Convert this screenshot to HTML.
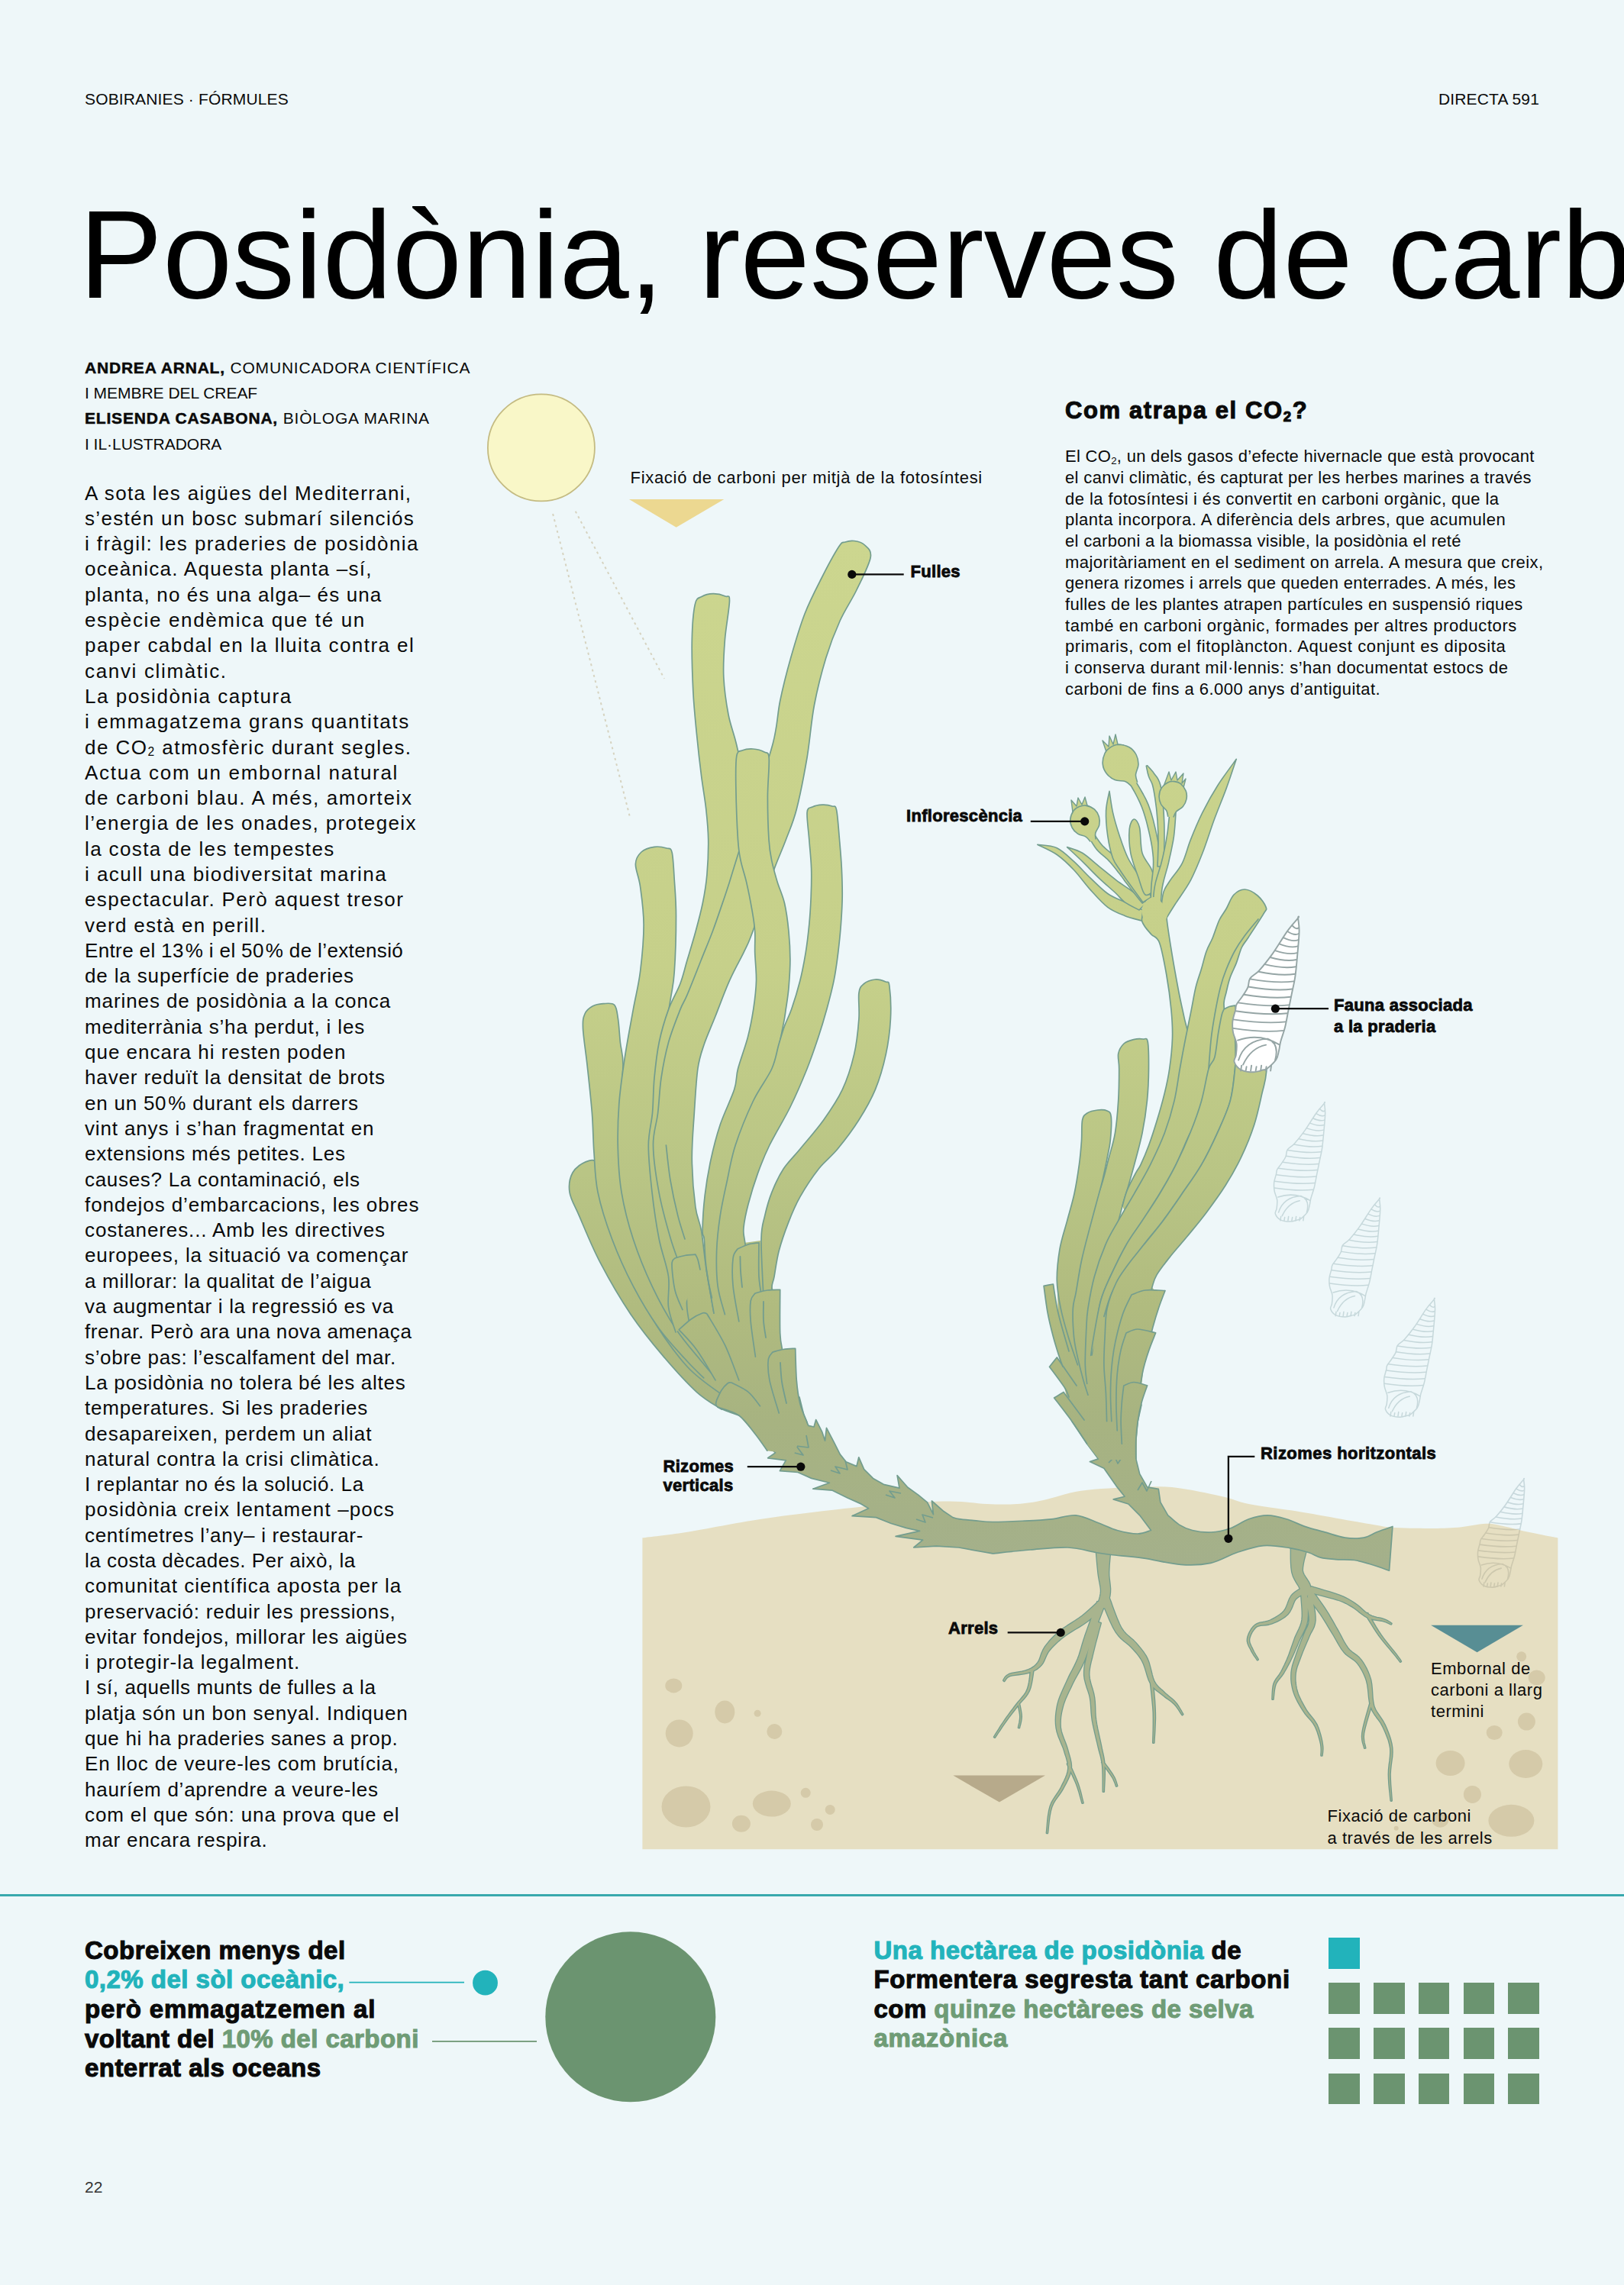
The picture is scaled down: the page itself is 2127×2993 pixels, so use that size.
<!DOCTYPE html>
<html lang="ca"><head><meta charset="utf-8"><title>Posidònia, reserves de carboni</title>
<style>
html,body{margin:0;padding:0;}
body{width:2127px;height:2993px;background:#eef7f9;position:relative;overflow:hidden;font-family:"Liberation Sans",sans-serif;color:#0a0a0a;}
.tb{position:absolute;white-space:nowrap;}
.tb div{height:1lh;overflow:visible;}
.title{color:#000;}
.by b,.lb,.hv{font-weight:700;-webkit-text-stroke:0.5px currentColor;}
.lb{-webkit-text-stroke:0.8px currentColor;}
.hv{-webkit-text-stroke:1.1px currentColor;}
.sub{font-size:0.6em;position:relative;top:0.18em;line-height:0;}
.sub2{font-size:0.6em;position:relative;top:0.22em;line-height:0;}
.pc{margin-left:2px;}
.teal{color:#22b3bb;}
.green{color:#6f9c76;}
.sq{position:absolute;width:40.6px;height:40.6px;background:#6b9470;}
svg{position:absolute;left:0;top:0;}
.hr{position:absolute;left:0;top:2480.7px;width:2127px;height:3.6px;background:#38a9ad;}
</style></head><body>
<svg width="2127" height="2993" viewBox="0 0 2127 2993"><defs><linearGradient id="g" gradientUnits="userSpaceOnUse" x1="0" y1="700" x2="0" y2="2050"><stop offset="0" stop-color="#ccd68f"/><stop offset="0.42" stop-color="#c6d08a"/><stop offset="0.62" stop-color="#b9c585"/><stop offset="0.75" stop-color="#b0bb7f"/><stop offset="0.86" stop-color="#a7b381"/><stop offset="1" stop-color="#a4b08b"/></linearGradient><clipPath id="sc"><path d="M841.4 2014.3C850.9 2013.1 872.6 2011 898.5 2006.9C924.4 2002.8 964.1 1994.6 997 1989.7C1029.8 1984.8 1066.8 1980.6 1095.6 1977.3C1124.3 1974 1144.9 1971.8 1169.5 1970C1194.1 1968.2 1222.8 1966.5 1243.3 1966.5C1263.8 1966.5 1277.8 1969.4 1292.6 1970C1307.4 1970.6 1319.7 1970.8 1332 1970C1344.3 1969.2 1352.5 1967.9 1366.5 1965C1380.5 1962.1 1395.3 1955.6 1415.8 1952.7C1436.3 1949.8 1469.2 1948.5 1489.7 1947.8C1510.2 1947.1 1520.5 1946.5 1538.9 1948.5C1557.3 1950.5 1583.9 1956.4 1600 1960C1616.1 1963.6 1618.9 1966.7 1635.6 1970C1652.3 1973.3 1681 1976.7 1700 1979.8C1719 1982.9 1732.9 1985.5 1749.3 1988.4C1765.7 1991.3 1786.2 1995 1798.5 1997C1810.8 1999 1810.9 1999.9 1823.2 2000.7C1835.5 2001.5 1858 2001.9 1872.4 2001.9C1886.8 2001.9 1897.1 2001.7 1909.4 2000.7C1921.7 1999.7 1936 1996 1946.3 1995.8C1956.5 1995.6 1962.7 1997.9 1970.9 1999.5C1979.1 2001.1 1987.4 2003.8 1995.6 2005.6C2003.8 2007.4 2012.7 2009 2020.2 2010.5C2027.7 2012 2037 2013.8 2040.4 2014.5L2040.4 2422.2L841.4 2422.2Z" fill="#e6dfc2"/></clipPath></defs><circle cx="708.9" cy="586.4" r="70" fill="#f9f7c8" stroke="#c4bb82" stroke-width="1.8"/><path d="M724.1 673.1L825.6 1072.6M753.7 669.7L870 888.9" stroke="#d6d3c0" stroke-width="2" stroke-dasharray="3 4.5" fill="none"/><path d="M824 653.9L948.3 653.9L885.7 690.8Z" fill="#ecd891"/><g transform="translate(1995.6 1937.9) scale(0.7)"><path d="M0 0C-2.3 2.8 -8.4 9.2 -14 17C-19.6 24.8 -27.1 37.9 -33.3 46.5C-39.5 55.1 -46.1 63.3 -51 68.7C-55.9 74.1 -60.3 75.3 -62.8 79C-65.3 82.7 -64.1 86.8 -65.8 90.8C-67.5 94.8 -70.6 99 -73.1 102.7C-75.5 106.4 -79 110 -80.5 113C-82 116 -81.1 116.7 -82 120.4C-82.9 124.1 -85.2 130.3 -85.7 135.2C-86.2 140.1 -85.9 145.1 -85 150C-84.1 154.9 -81.1 159.8 -80.5 164.7C-79.9 169.6 -80.8 175.6 -81.3 179.5C-81.8 183.4 -84.6 185.2 -83.5 188.4C-82.4 191.6 -78.8 196.5 -74.6 198.7C-70.4 200.9 -63.3 201.7 -58.4 201.7C-53.5 201.7 -48.1 199.4 -45.1 198.7C-42.1 197.9 -43.3 199.4 -40.6 197.2C-37.9 195 -31.4 189.3 -28.8 185.4C-26.2 181.5 -26.1 177.5 -25.1 173.6C-24.1 169.7 -24.2 167 -22.9 161.8C-21.5 156.6 -18.7 149.5 -17 142.6C-15.3 135.7 -14.1 127.8 -12.6 120.4C-11.1 113 -9.6 105.6 -8.1 98.2C-6.6 90.8 -4.9 84.7 -3.7 76.1C-2.5 67.5 -1.6 56.4 -0.7 46.5C0.2 36.6 1.4 24.8 1.5 17C1.6 9.2 0.2 2.8 0 0C-0.2 -2.8 2.3 -2.8 0 0Z" fill="none" stroke="#c7d8dc" stroke-width="2.29" stroke-linejoin="round"/><path d="M-7.8 9.6Q-2.5 15.6 0.9 12.6M-13.8 17.4Q-4.9 23.4 0.9 20.4M-19.2 25.5Q-7.3 31.5 0.4 28.5M-24.4 33.8Q-9.9 39.8 -0.3 36.8M-30 42.5Q-12.6 48.5 -1.1 45.5M-36.4 51.4Q-15.6 57.4 -1.9 54.4M-43.6 60.6Q-19 66.6 -2.7 63.6M-51.8 70.1Q-22.9 76.1 -3.8 73.1M-62.8 79.8Q-28.2 85.8 -5.3 82.8M-65 89.9Q-30.4 95.9 -7.5 92.9M-70.9 100.2Q-34 106.2 -9.6 103.2M-78.6 110.8Q-38.4 116.8 -11.8 113.8M-81.8 121.7Q-41 127.7 -13.9 124.7M-84.8 132.8Q-43.4 138.8 -16 135.8M-85.2 144.3Q-45.3 150.3 -18.8 147.3M-79 160Q-50 150 -24 166M-78 186Q-70 160 -40 158Q-24 164 -30 186M-72 192Q-62 170 -42 166M-74 193L-75 200M-67.5 194.5L-68.5 200M-61 193L-62 200M-54.5 194.5L-55.5 200M-48 193L-49 200M-41.5 194.5L-42.5 200M-35 193L-36 200" fill="none" stroke="#c7d8dc" stroke-width="2.29" stroke-linecap="round"/></g><path d="M841.4 2014.3C850.9 2013.1 872.6 2011 898.5 2006.9C924.4 2002.8 964.1 1994.6 997 1989.7C1029.8 1984.8 1066.8 1980.6 1095.6 1977.3C1124.3 1974 1144.9 1971.8 1169.5 1970C1194.1 1968.2 1222.8 1966.5 1243.3 1966.5C1263.8 1966.5 1277.8 1969.4 1292.6 1970C1307.4 1970.6 1319.7 1970.8 1332 1970C1344.3 1969.2 1352.5 1967.9 1366.5 1965C1380.5 1962.1 1395.3 1955.6 1415.8 1952.7C1436.3 1949.8 1469.2 1948.5 1489.7 1947.8C1510.2 1947.1 1520.5 1946.5 1538.9 1948.5C1557.3 1950.5 1583.9 1956.4 1600 1960C1616.1 1963.6 1618.9 1966.7 1635.6 1970C1652.3 1973.3 1681 1976.7 1700 1979.8C1719 1982.9 1732.9 1985.5 1749.3 1988.4C1765.7 1991.3 1786.2 1995 1798.5 1997C1810.8 1999 1810.9 1999.9 1823.2 2000.7C1835.5 2001.5 1858 2001.9 1872.4 2001.9C1886.8 2001.9 1897.1 2001.7 1909.4 2000.7C1921.7 1999.7 1936 1996 1946.3 1995.8C1956.5 1995.6 1962.7 1997.9 1970.9 1999.5C1979.1 2001.1 1987.4 2003.8 1995.6 2005.6C2003.8 2007.4 2012.7 2009 2020.2 2010.5C2027.7 2012 2037 2013.8 2040.4 2014.5L2040.4 2422.2L841.4 2422.2Z" fill="#e6dfc2"/><ellipse cx="882.3" cy="2207.9" rx="11" ry="9.5" fill="#d5caa9"/><ellipse cx="949.3" cy="2242.4" rx="13" ry="15" fill="#d5caa9"/><ellipse cx="992.1" cy="2244.3" rx="4.5" ry="4.5" fill="#d5caa9"/><ellipse cx="889.7" cy="2270.4" rx="18" ry="18" fill="#d5caa9"/><ellipse cx="1014.3" cy="2268" rx="10" ry="10" fill="#d5caa9"/><ellipse cx="898.5" cy="2366.5" rx="32" ry="27" fill="#d5caa9"/><ellipse cx="1010.8" cy="2362.6" rx="25" ry="17" fill="#d5caa9"/><ellipse cx="1055.2" cy="2348.3" rx="6.5" ry="6.5" fill="#d5caa9"/><ellipse cx="1087.2" cy="2370.4" rx="6.5" ry="6.5" fill="#d5caa9"/><ellipse cx="970.9" cy="2388.7" rx="12" ry="11" fill="#d5caa9"/><ellipse cx="1070" cy="2390" rx="8" ry="8" fill="#d5caa9"/><ellipse cx="1992.7" cy="2169.8" rx="6.5" ry="6.5" fill="#d5caa9"/><ellipse cx="2012.7" cy="2197.5" rx="11" ry="10" fill="#d5caa9"/><ellipse cx="1999.4" cy="2255.1" rx="11.5" ry="11.5" fill="#d5caa9"/><ellipse cx="1957.2" cy="2269.5" rx="10.5" ry="9.5" fill="#d5caa9"/><ellipse cx="1899.6" cy="2309.4" rx="19" ry="16.5" fill="#d5caa9"/><ellipse cx="1998.3" cy="2310.5" rx="22" ry="18.5" fill="#d5caa9"/><ellipse cx="1928.4" cy="2350.4" rx="11.5" ry="11.5" fill="#d5caa9"/><ellipse cx="1979.4" cy="2384.8" rx="30" ry="21" fill="#d5caa9"/><ellipse cx="1886.3" cy="2383.7" rx="11" ry="10" fill="#d5caa9"/><ellipse cx="1828.7" cy="2394.8" rx="3" ry="3" fill="#d5caa9"/><path d="M1874.1 2128.8L1994.9 2128.8L1934.6 2164.2Z" fill="#588e94"/><path d="M1248.3 2325.6L1369 2325.6L1308.9 2360.6Z" fill="#b7aa8b"/><g clip-path="url(#sc)"><g transform="translate(1995.6 1937.9) scale(0.7)"><path d="M0 0C-2.3 2.8 -8.4 9.2 -14 17C-19.6 24.8 -27.1 37.9 -33.3 46.5C-39.5 55.1 -46.1 63.3 -51 68.7C-55.9 74.1 -60.3 75.3 -62.8 79C-65.3 82.7 -64.1 86.8 -65.8 90.8C-67.5 94.8 -70.6 99 -73.1 102.7C-75.5 106.4 -79 110 -80.5 113C-82 116 -81.1 116.7 -82 120.4C-82.9 124.1 -85.2 130.3 -85.7 135.2C-86.2 140.1 -85.9 145.1 -85 150C-84.1 154.9 -81.1 159.8 -80.5 164.7C-79.9 169.6 -80.8 175.6 -81.3 179.5C-81.8 183.4 -84.6 185.2 -83.5 188.4C-82.4 191.6 -78.8 196.5 -74.6 198.7C-70.4 200.9 -63.3 201.7 -58.4 201.7C-53.5 201.7 -48.1 199.4 -45.1 198.7C-42.1 197.9 -43.3 199.4 -40.6 197.2C-37.9 195 -31.4 189.3 -28.8 185.4C-26.2 181.5 -26.1 177.5 -25.1 173.6C-24.1 169.7 -24.2 167 -22.9 161.8C-21.5 156.6 -18.7 149.5 -17 142.6C-15.3 135.7 -14.1 127.8 -12.6 120.4C-11.1 113 -9.6 105.6 -8.1 98.2C-6.6 90.8 -4.9 84.7 -3.7 76.1C-2.5 67.5 -1.6 56.4 -0.7 46.5C0.2 36.6 1.4 24.8 1.5 17C1.6 9.2 0.2 2.8 0 0C-0.2 -2.8 2.3 -2.8 0 0Z" fill="none" stroke="#cdc8ae" stroke-width="2.29" stroke-linejoin="round"/><path d="M-7.8 9.6Q-2.5 15.6 0.9 12.6M-13.8 17.4Q-4.9 23.4 0.9 20.4M-19.2 25.5Q-7.3 31.5 0.4 28.5M-24.4 33.8Q-9.9 39.8 -0.3 36.8M-30 42.5Q-12.6 48.5 -1.1 45.5M-36.4 51.4Q-15.6 57.4 -1.9 54.4M-43.6 60.6Q-19 66.6 -2.7 63.6M-51.8 70.1Q-22.9 76.1 -3.8 73.1M-62.8 79.8Q-28.2 85.8 -5.3 82.8M-65 89.9Q-30.4 95.9 -7.5 92.9M-70.9 100.2Q-34 106.2 -9.6 103.2M-78.6 110.8Q-38.4 116.8 -11.8 113.8M-81.8 121.7Q-41 127.7 -13.9 124.7M-84.8 132.8Q-43.4 138.8 -16 135.8M-85.2 144.3Q-45.3 150.3 -18.8 147.3M-79 160Q-50 150 -24 166M-78 186Q-70 160 -40 158Q-24 164 -30 186M-72 192Q-62 170 -42 166M-74 193L-75 200M-67.5 194.5L-68.5 200M-61 193L-62 200M-54.5 194.5L-55.5 200M-48 193L-49 200M-41.5 194.5L-42.5 200M-35 193L-36 200" fill="none" stroke="#cdc8ae" stroke-width="2.29" stroke-linecap="round"/></g></g><path d="M1435.7 2030L1436 2033.3L1436.4 2037.9L1436.9 2043.5L1437.4 2049.3L1438 2055.1L1438.5 2060.4L1439.2 2065.2L1440 2069.8L1440.8 2074L1441.5 2077.9L1442 2081.5L1442.1 2084.7L1441.7 2088L1441 2091.5L1440 2095.1L1438.9 2098.5L1438 2101.5L1437.3 2103.7L1448.7 2107.1L1449.3 2105L1450.2 2102.1L1451.3 2098.4L1452.4 2094.3L1453.4 2089.8L1453.9 2085.3L1454 2080.8L1453.6 2076.5L1453.1 2072.2L1452.6 2067.9L1452.2 2063.8L1452.1 2059.6L1452.3 2054.7L1452.6 2049.2L1453.1 2043.4L1453.6 2038L1454.1 2033.3L1454.3 2030ZM1442.6 2094.2L1439.9 2096.7L1436.2 2100.2L1431.9 2104.2L1427.2 2108.5L1422.4 2112.7L1417.9 2116.5L1413.3 2119.8L1408.4 2123.1L1403.2 2126.4L1398 2129.7L1393 2133.1L1388.5 2136.5L1384.4 2140L1380.7 2143.5L1377.3 2147L1374.1 2150.5L1371.3 2154L1368.6 2157.6L1366.4 2161.4L1364.7 2165.3L1363.4 2169L1362.3 2172.3L1361.1 2175.3L1359.6 2177.7L1357.8 2179.9L1356 2181.8L1354 2183.4L1351.7 2184.9L1349.2 2186.3L1346.3 2187.6L1342.7 2188.7L1338.4 2189.7L1333.8 2190.5L1329.3 2191.2L1325.2 2192.1L1321.8 2193.1L1319.4 2194.5L1317.6 2196L1316.3 2197.6L1315.4 2199.1L1314.8 2200.3L1314.3 2201.1L1315.3 2201.9L1316 2201L1316.7 2199.9L1317.6 2198.6L1318.8 2197.3L1320.4 2196.1L1322.6 2195.1L1325.7 2194.3L1329.7 2193.7L1334.2 2193.1L1338.9 2192.5L1343.4 2191.8L1347.3 2190.8L1350.6 2189.6L1353.6 2188.4L1356.3 2186.9L1358.8 2185.3L1361.2 2183.3L1363.6 2180.9L1365.8 2177.9L1367.5 2174.6L1369 2171.1L1370.4 2167.8L1372.1 2164.6L1374.2 2161.6L1376.7 2158.6L1379.6 2155.5L1382.7 2152.5L1386.1 2149.4L1389.8 2146.3L1393.7 2143.3L1398 2140.2L1402.8 2137.1L1407.9 2134L1413.2 2130.8L1418.5 2127.4L1423.5 2123.9L1428.5 2120L1433.6 2115.8L1438.5 2111.5L1443 2107.5L1446.7 2104.2L1449.4 2101.8ZM1350.3 2185.8L1349.9 2188.9L1349.4 2193.3L1348.9 2198.5L1348.1 2203.8L1347 2209L1345.6 2213.3L1343.9 2216.9L1341.6 2220.3L1339.1 2223.4L1336.5 2226.5L1333.8 2229.6L1331.2 2232.9L1328.7 2236.1L1326.3 2239.4L1323.8 2242.6L1321.4 2245.9L1318.9 2249.2L1316.5 2252.7L1313.9 2256.6L1311.1 2260.8L1308.4 2265.2L1305.8 2269.2L1303.6 2272.7L1302.1 2275.1L1302.9 2275.7L1304.6 2273.3L1306.8 2269.9L1309.5 2265.9L1312.4 2261.6L1315.2 2257.5L1317.9 2253.7L1320.4 2250.3L1322.9 2247L1325.4 2243.8L1327.8 2240.6L1330.3 2237.4L1332.8 2234.1L1335.4 2231L1338.1 2228L1340.9 2224.9L1343.5 2221.7L1345.9 2218.2L1348 2214.3L1349.6 2209.7L1350.8 2204.4L1351.8 2198.9L1352.6 2193.7L1353.2 2189.3L1353.7 2186.2ZM1333.2 2231.2L1333.6 2233.1L1334.2 2235.8L1334.9 2238.9L1335.5 2242.2L1336.1 2245.4L1336.3 2248.3L1336.2 2251L1335.9 2253.8L1335.4 2256.6L1334.8 2259.2L1334.3 2261.3L1334 2262.9L1335 2263.1L1335.3 2261.5L1335.9 2259.4L1336.5 2256.9L1337.1 2254L1337.5 2251.1L1337.7 2248.3L1337.5 2245.3L1337 2242L1336.4 2238.6L1335.8 2235.4L1335.2 2232.7L1334.8 2230.8ZM1437.2 2098.2L1435.4 2103.3L1432.8 2110.5L1429.8 2118.9L1426.7 2127.7L1423.7 2136.1L1421.2 2143.3L1419.3 2149.2L1417.7 2154.5L1416.3 2159.3L1415 2163.7L1413.6 2168.2L1411.9 2172.8L1409.8 2177.5L1407.5 2182.4L1405 2187.3L1402.4 2192.2L1399.9 2197.2L1397.6 2202.3L1395.3 2207.2L1393 2212.2L1390.8 2217.2L1388.7 2222.3L1386.8 2227.5L1385.4 2232.6L1384.4 2237.8L1383.6 2242.9L1383.1 2248L1382.9 2253.2L1383.1 2258.3L1383.7 2263.5L1384.8 2268.7L1386.5 2273.9L1388.6 2279L1390.6 2284L1392.6 2288.7L1394.1 2293.2L1395.4 2297.6L1396.8 2301.7L1397.9 2305.7L1398.8 2309.5L1399.3 2313.2L1399.3 2317L1398.7 2320.9L1397.5 2324.9L1395.9 2328.9L1394.1 2333.1L1392 2337.2L1390 2341.3L1387.8 2345.3L1385.3 2349.1L1382.6 2353L1379.9 2357.1L1377.5 2361.4L1375.6 2366.2L1374.2 2371.9L1373.1 2378.4L1372.3 2385.2L1371.8 2391.6L1371.3 2397.1L1370.9 2400.9L1371.9 2401.1L1372.4 2397.2L1372.9 2391.7L1373.6 2385.4L1374.5 2378.6L1375.7 2372.2L1377.2 2366.8L1379.2 2362.2L1381.6 2358.1L1384.3 2354.2L1387.1 2350.4L1389.8 2346.5L1392.2 2342.5L1394.4 2338.4L1396.6 2334.3L1398.6 2330.2L1400.4 2326L1401.8 2321.7L1402.7 2317.4L1402.9 2313.1L1402.5 2308.9L1401.6 2304.7L1400.5 2300.6L1399.3 2296.4L1398.1 2292L1396.6 2287.2L1394.8 2282.3L1392.8 2277.3L1391 2272.3L1389.6 2267.5L1388.7 2262.7L1388.5 2258.1L1388.6 2253.3L1389 2248.6L1389.8 2243.8L1390.8 2239.1L1392 2234.4L1393.5 2229.7L1395.3 2224.9L1397.4 2220.2L1399.7 2215.3L1402.1 2210.4L1404.4 2205.5L1406.8 2200.7L1409.4 2195.9L1412.1 2191L1414.8 2186.1L1417.4 2181.1L1419.7 2176L1421.7 2171.1L1423.4 2166.5L1424.9 2161.9L1426.3 2157.1L1428 2152L1430 2146.3L1432.6 2139.3L1435.7 2131L1439 2122.2L1442.2 2113.9L1444.9 2106.8L1446.8 2101.8ZM1397.9 2310.5L1399.3 2313.5L1401.3 2317.6L1403.6 2322.4L1406 2327.6L1408.3 2332.7L1410.2 2337.3L1411.8 2341.8L1413.3 2346.5L1414.6 2351.2L1415.8 2355.5L1416.8 2359.1L1417.5 2361.7L1418.5 2361.5L1417.8 2358.8L1416.9 2355.2L1415.9 2350.8L1414.7 2346.1L1413.3 2341.3L1411.8 2336.7L1410 2332L1407.8 2326.8L1405.5 2321.5L1403.3 2316.6L1401.5 2312.5L1400.1 2309.5ZM1434.3 2124.1L1433.2 2128.5L1431.7 2134.7L1429.8 2142L1428 2149.7L1426.2 2157.2L1424.8 2163.7L1423.6 2169.3L1422.5 2174.4L1421.4 2179.3L1420.6 2184.2L1420.2 2189.1L1420.2 2194.3L1420.9 2199.5L1422.2 2204.7L1423.7 2209.7L1425.4 2214.6L1426.9 2219.3L1428 2224L1428.7 2228.7L1429.1 2233.4L1429.4 2238.2L1429.7 2243.1L1430.2 2248.2L1430.9 2253.5L1432 2259.2L1433.3 2265.1L1434.7 2271.2L1436.1 2277.2L1437.5 2282.9L1438.7 2288.1L1439.8 2292.6L1440.9 2296.6L1441.9 2300.3L1442.7 2304L1443.5 2307.9L1444.1 2312.4L1444.5 2317.9L1444.7 2324.3L1444.8 2331.1L1444.8 2337.5L1444.8 2342.9L1444.8 2346.8L1445.8 2346.8L1445.9 2342.9L1446.2 2337.5L1446.5 2331.1L1446.7 2324.3L1446.7 2317.8L1446.5 2312.2L1446.1 2307.6L1445.5 2303.5L1444.8 2299.7L1443.9 2295.9L1443 2291.9L1442.1 2287.3L1441 2282.1L1439.7 2276.3L1438.4 2270.3L1437.1 2264.3L1436 2258.4L1435.1 2252.9L1434.5 2247.8L1434.2 2242.8L1434.1 2238L1433.9 2233.1L1433.6 2228.2L1433 2223.2L1432 2218L1430.6 2213L1429 2208L1427.7 2203.2L1426.7 2198.5L1426.2 2193.9L1426.3 2189.5L1426.9 2185L1427.7 2180.6L1428.8 2175.8L1430.1 2170.8L1431.4 2165.3L1433 2158.8L1434.8 2151.5L1436.9 2143.8L1438.8 2136.5L1440.5 2130.4L1441.7 2125.9ZM1443.2 2308.6L1444.8 2310.8L1447 2313.8L1449.7 2317.3L1452.4 2321L1454.9 2324.5L1456.9 2327.4L1458.3 2329.9L1459.4 2332.4L1460.3 2334.6L1461.1 2336.6L1461.6 2338.3L1462.1 2339.6L1463.1 2339.2L1462.7 2338L1462.2 2336.2L1461.6 2334.2L1460.8 2331.8L1459.7 2329.2L1458.3 2326.6L1456.4 2323.5L1454 2319.9L1451.3 2316.1L1448.6 2312.6L1446.4 2309.5L1444.8 2307.4ZM1443.3 2096.9L1445.2 2101.4L1447.8 2107.9L1450.9 2115.5L1454.3 2123.5L1457.9 2131L1461.4 2137.2L1465 2142.1L1468.7 2146L1472.4 2149.2L1475.9 2151.9L1479 2154.5L1481.9 2157.3L1484.7 2160.3L1487.4 2163.3L1489.9 2166.2L1492.2 2169.2L1494.4 2172.4L1496.4 2175.9L1498.3 2180L1500 2184.9L1501.6 2190.2L1503.2 2195.6L1505 2200.7L1507.2 2205.1L1509.6 2208.7L1512.3 2211.6L1515 2214L1517.8 2216L1520.4 2218L1523 2220L1525.6 2222.1L1528.3 2224.1L1531 2225.9L1533.5 2227.8L1535.9 2229.7L1538.1 2231.7L1540.2 2234.1L1542.2 2236.8L1544.2 2239.6L1545.9 2242.2L1547.3 2244.5L1548.4 2246.1L1549.2 2245.5L1548.3 2243.9L1547 2241.5L1545.4 2238.8L1543.6 2235.8L1541.7 2232.9L1539.7 2230.3L1537.5 2228L1535.1 2225.8L1532.6 2223.8L1530.1 2221.7L1527.6 2219.6L1525.2 2217.4L1522.8 2215.1L1520.3 2213L1517.8 2210.8L1515.6 2208.5L1513.5 2205.8L1511.6 2202.7L1510 2198.8L1508.7 2194L1507.4 2188.7L1506 2183.2L1504.5 2177.8L1502.6 2172.9L1500.4 2168.7L1498 2165.1L1495.5 2161.7L1493 2158.5L1490.3 2155.4L1487.5 2152.1L1484.3 2148.8L1480.9 2145.9L1477.6 2143.1L1474.4 2140.2L1471.4 2136.8L1468.6 2132.8L1465.7 2127.1L1462.7 2119.9L1459.6 2112L1456.8 2104.4L1454.5 2097.8L1452.7 2093.1ZM1506.5 2200.1L1507 2204.9L1507.8 2211.5L1508.7 2219.3L1509.5 2227.6L1510.3 2235.9L1510.8 2243.3L1510.9 2250.6L1510.9 2258.2L1510.8 2265.7L1510.6 2272.7L1510.4 2278.5L1510.3 2282.8L1511.3 2282.8L1511.5 2278.6L1511.9 2272.7L1512.3 2265.8L1512.6 2258.2L1512.9 2250.6L1512.8 2243.3L1512.5 2235.7L1512 2227.4L1511.3 2219.1L1510.5 2211.2L1509.9 2204.6L1509.5 2199.9ZM1690.9 2026.9L1690.9 2030.2L1690.9 2035L1690.9 2040.9L1691.1 2047.2L1691.5 2053.3L1692.3 2059.1L1693.8 2064.2L1695.9 2068.6L1698.1 2072.5L1700.1 2075.7L1701.7 2078.4L1702.6 2080.4L1703.2 2082.3L1703.7 2084.2L1704 2086.1L1704.2 2087.9L1704.4 2089.6L1704.6 2090.9L1718 2089.1L1717.9 2088L1717.7 2086.4L1717.4 2084.2L1717 2081.5L1716.3 2078.6L1715.2 2075.2L1713.4 2071.7L1711.3 2068.5L1709.3 2065.5L1707.5 2062.6L1706.3 2059.8L1705.7 2056.9L1705.9 2053.1L1706.7 2048.1L1707.8 2042.6L1709.2 2037.3L1710.4 2032.5L1711.1 2029.1ZM1704 2080.8L1702.8 2081.5L1701 2082.6L1698.7 2084L1696.2 2085.7L1693.6 2087.9L1691.3 2090.6L1689.4 2093.8L1687.9 2097.4L1686.6 2101L1685.2 2104.6L1683.7 2107.7L1681.9 2110.3L1679.6 2112.7L1676.8 2115L1673.7 2117.1L1670.3 2119.2L1666.9 2121L1663.7 2122.6L1660.6 2123.8L1657.3 2124.6L1653.8 2125.2L1650.3 2125.8L1647 2126.9L1644.1 2128.6L1641.6 2131L1639.3 2133.9L1637.4 2137.1L1635.8 2140.4L1634.6 2143.6L1634 2146.7L1633.9 2149.5L1634.5 2152.3L1635.5 2154.9L1636.7 2157.4L1638 2159.7L1639.1 2162L1640.4 2164.3L1641.8 2166.7L1643.3 2169L1644.8 2171.1L1646 2172.9L1646.9 2174.2L1647.7 2173.6L1646.9 2172.3L1645.8 2170.5L1644.5 2168.3L1643.1 2166L1641.8 2163.6L1640.7 2161.2L1639.6 2158.9L1638.4 2156.5L1637.3 2154.1L1636.4 2151.7L1636 2149.3L1636 2146.9L1636.7 2144.2L1637.8 2141.2L1639.3 2138.1L1641.2 2135.2L1643.3 2132.6L1645.5 2130.6L1648 2129.4L1650.9 2128.8L1654.3 2128.4L1657.8 2128.1L1661.6 2127.6L1665.3 2126.6L1668.9 2125.1L1672.6 2123.5L1676.3 2121.6L1679.9 2119.5L1683.3 2117.1L1686.5 2114.3L1689 2110.9L1691 2107.2L1692.6 2103.4L1694 2099.8L1695.3 2096.8L1696.7 2094.6L1698.4 2093L1700.4 2091.5L1702.5 2090.2L1704.6 2089L1706.5 2088.1L1708 2087.2ZM1704.2 2088.2L1704.5 2092.1L1704.9 2097.5L1705.4 2103.8L1705.8 2110.3L1705.9 2116.5L1705.5 2121.7L1704.7 2126L1703.3 2129.9L1701.7 2133.7L1699.9 2137.5L1698 2141.5L1696.2 2145.6L1694.7 2149.9L1693.2 2154.2L1691.7 2158.5L1690.2 2162.7L1688.8 2166.7L1687.3 2170.6L1685.8 2174.2L1684.2 2177.7L1682.7 2181.1L1681.1 2184.3L1679.6 2187.4L1678 2190.3L1676.4 2193L1674.7 2195.4L1672.9 2197.7L1671.2 2200.1L1669.7 2202.7L1668.5 2205.6L1667.7 2208.9L1667.2 2212.7L1666.9 2216.6L1666.7 2220.3L1666.6 2223.4L1666.5 2225.6L1667.5 2225.6L1667.7 2223.4L1668 2220.4L1668.4 2216.7L1668.9 2212.9L1669.6 2209.3L1670.5 2206.2L1671.7 2203.7L1673.2 2201.5L1674.9 2199.3L1676.8 2197L1678.7 2194.6L1680.6 2191.9L1682.3 2188.9L1684.1 2185.9L1685.8 2182.7L1687.6 2179.3L1689.4 2175.9L1691.1 2172.2L1692.9 2168.4L1694.7 2164.5L1696.5 2160.3L1698.3 2156.2L1700 2152L1701.8 2148L1703.6 2144.1L1705.5 2140.4L1707.5 2136.5L1709.5 2132.3L1711.1 2127.8L1712.3 2122.7L1712.8 2116.8L1712.9 2110.2L1712.7 2103.4L1712.3 2097L1712 2091.6L1711.8 2087.8ZM1709.8 2092.8L1710.5 2096.2L1711.6 2101.1L1712.8 2106.6L1713.9 2112.4L1714.7 2117.7L1714.9 2122L1714.5 2125.3L1713.8 2128.1L1712.7 2130.9L1711.2 2133.8L1709.7 2137L1708.2 2140.6L1706.7 2144.5L1705.1 2148.5L1703.4 2152.7L1701.8 2157L1700.2 2161.3L1698.7 2165.5L1697.3 2169.6L1695.8 2173.7L1694.4 2177.9L1693.1 2182.2L1692.2 2186.5L1691.6 2190.8L1691.4 2195.1L1691.4 2199.4L1691.8 2203.7L1692.5 2207.9L1693.4 2212.2L1694.6 2216.4L1696.2 2220.7L1698.1 2225L1700.3 2229.3L1702.7 2233.5L1705.1 2237.5L1707.5 2241.3L1710 2244.9L1712.7 2248.1L1715.4 2251.2L1718.1 2254.2L1720.4 2257.3L1722.5 2260.7L1724.2 2264.5L1725.8 2268.6L1727.2 2273L1728.4 2277.3L1729.4 2281.3L1730.2 2284.8L1730.6 2288L1730.8 2290.9L1730.8 2293.6L1730.7 2296L1730.5 2298L1730.5 2299.5L1731.5 2299.5L1731.6 2298L1731.9 2296.1L1732.1 2293.7L1732.3 2290.9L1732.2 2287.8L1731.8 2284.6L1731.2 2280.9L1730.3 2276.8L1729.2 2272.4L1727.9 2268L1726.4 2263.6L1724.7 2259.5L1722.6 2255.9L1720.3 2252.5L1717.7 2249.3L1715.1 2246.2L1712.6 2242.9L1710.3 2239.5L1708.1 2235.7L1705.9 2231.7L1703.7 2227.5L1701.7 2223.4L1699.9 2219.2L1698.6 2215.2L1697.6 2211.2L1696.9 2207.2L1696.4 2203.2L1696.2 2199.2L1696.3 2195.3L1696.6 2191.4L1697.3 2187.5L1698.3 2183.6L1699.7 2179.7L1701.2 2175.7L1702.8 2171.6L1704.3 2167.5L1705.9 2163.4L1707.6 2159.3L1709.4 2155.1L1711.1 2151L1712.9 2147L1714.4 2143.2L1715.9 2139.9L1717.5 2137L1719.2 2133.9L1720.7 2130.6L1721.8 2126.8L1722.5 2122.4L1722.4 2117.1L1721.8 2111.2L1720.8 2105.1L1719.7 2099.4L1718.8 2094.6L1718.2 2091.2ZM1712.2 2090.7L1714.2 2093.4L1717 2097L1720.2 2101.3L1723.6 2105.8L1727 2110.4L1730 2114.6L1732.6 2118.6L1735.1 2122.6L1737.6 2126.6L1740.1 2130.7L1742.5 2134.8L1745 2138.8L1747.5 2142.9L1749.9 2147.2L1752.4 2151.6L1754.9 2155.9L1757.5 2160L1760.4 2163.8L1763.5 2167L1766.8 2169.5L1770 2171.6L1772.9 2173.6L1775.5 2175.7L1778 2178.3L1780.3 2181.4L1782.6 2185L1784.7 2188.7L1786.7 2192.8L1788.6 2197.1L1790.1 2201.7L1791.3 2206.7L1792.1 2212.4L1792.7 2218.4L1793.3 2224.6L1794.2 2230.6L1795.7 2236.1L1797.8 2240.9L1800.4 2245.2L1803.2 2249.1L1806 2252.8L1808.7 2256.6L1811 2260.8L1813.1 2265.3L1815.2 2269.9L1817.1 2274.7L1818.9 2279.6L1820.2 2284.7L1821.2 2289.8L1821.4 2295.1L1821.1 2300.7L1820.5 2306.5L1819.7 2312.3L1819.1 2318.2L1818.9 2324.1L1819.1 2330.3L1819.5 2336.9L1820.1 2343.6L1820.8 2349.7L1821.3 2354.9L1821.7 2358.6L1822.7 2358.6L1822.4 2354.8L1822 2349.6L1821.5 2343.4L1821 2336.8L1820.7 2330.2L1820.5 2324.1L1820.9 2318.4L1821.5 2312.6L1822.3 2306.7L1823.1 2300.9L1823.4 2295.2L1823.2 2289.6L1822.4 2284.2L1821.1 2279L1819.5 2273.9L1817.7 2268.9L1815.7 2264.1L1813.6 2259.4L1811.3 2255L1808.7 2251L1806 2247.1L1803.4 2243.3L1801.1 2239.3L1799.3 2234.9L1798.2 2229.8L1797.5 2224.1L1797.1 2218.1L1796.7 2211.9L1796.1 2205.9L1795.1 2200.3L1793.5 2195.3L1791.7 2190.6L1789.7 2186.2L1787.5 2182.1L1785.2 2178.2L1782.6 2174.5L1779.8 2171.3L1776.7 2168.6L1773.6 2166.4L1770.7 2164.3L1768 2162.1L1765.6 2159.4L1763.3 2156.1L1760.9 2152.3L1758.6 2148.1L1756.3 2143.7L1754 2139.3L1751.6 2135L1749.2 2130.8L1746.9 2126.7L1744.5 2122.5L1742.1 2118.4L1739.7 2114.2L1737 2110L1734.1 2105.5L1730.8 2100.7L1727.4 2096L1724.3 2091.6L1721.6 2087.9L1719.8 2085.3ZM1794.8 2229.7L1793.5 2234.2L1791.6 2240.8L1789.4 2248.5L1787.3 2256.4L1785.5 2263.8L1784.4 2269.9L1784.1 2274.7L1784.4 2278.9L1785.1 2282.5L1786 2285.5L1786.8 2287.9L1787.2 2289.8L1788.2 2289.6L1787.8 2287.7L1787.1 2285.2L1786.4 2282.2L1785.9 2278.7L1785.7 2274.7L1786 2270.1L1787.3 2264.2L1789.2 2256.9L1791.5 2249.1L1793.8 2241.4L1795.8 2234.9L1797.2 2230.3ZM1715 2085.7L1719.3 2086.7L1725.4 2088.2L1732.5 2090L1739.8 2091.9L1746.7 2093.7L1752.2 2095.4L1756.4 2096.9L1759.9 2098.3L1762.9 2099.7L1765.6 2101.2L1768.4 2102.8L1771.5 2104.6L1774.7 2106.8L1778 2109.2L1781.3 2111.9L1784.7 2114.5L1788.2 2116.9L1791.8 2118.9L1795.4 2120.3L1799.1 2121.2L1802.8 2121.8L1806.2 2122.2L1809.3 2122.6L1812 2123.2L1814.3 2123.9L1816.3 2124.7L1818.1 2125.5L1819.7 2126.3L1821 2127L1822 2127.4L1822.4 2126.6L1821.5 2126L1820.3 2125.2L1818.8 2124.3L1817 2123.2L1815 2122.2L1812.6 2121.2L1809.8 2120.3L1806.7 2119.6L1803.3 2118.9L1799.9 2118L1796.6 2116.9L1793.4 2115.5L1790.4 2113.6L1787.3 2111.2L1784.2 2108.4L1781 2105.6L1777.7 2102.8L1774.3 2100.4L1771.2 2098.3L1768.3 2096.5L1765.4 2094.8L1762.2 2093.2L1758.6 2091.5L1754.2 2089.8L1748.5 2087.8L1741.6 2085.6L1734.3 2083.4L1727.2 2081.3L1721.2 2079.6L1717 2078.3ZM1788.7 2114.8L1790.6 2117.8L1793.2 2122.1L1796.4 2127.1L1799.8 2132.5L1803.2 2137.7L1806.5 2142.5L1809.9 2147L1813.5 2151.5L1817.2 2155.9L1820.7 2160L1823.9 2163.8L1826.5 2167L1828.6 2169.5L1830.2 2171.6L1831.5 2173.3L1832.6 2174.7L1833.4 2175.8L1834.1 2176.7L1834.9 2176.1L1834.3 2175.2L1833.5 2174L1832.5 2172.6L1831.3 2170.9L1829.7 2168.7L1827.7 2166L1825.1 2162.8L1822 2159L1818.6 2154.8L1815 2150.3L1811.5 2145.8L1808.3 2141.3L1805.1 2136.5L1801.8 2131.2L1798.6 2125.7L1795.6 2120.6L1793.1 2116.3L1791.3 2113.2Z" fill="#a8b48e" stroke="#739d8e" stroke-width="2.6" stroke-linejoin="round"/><path d="M1435.7 2030L1436 2033.3L1436.4 2037.9L1436.9 2043.5L1437.4 2049.3L1438 2055.1L1438.5 2060.4L1439.2 2065.2L1440 2069.8L1440.8 2074L1441.5 2077.9L1442 2081.5L1442.1 2084.7L1441.7 2088L1441 2091.5L1440 2095.1L1438.9 2098.5L1438 2101.5L1437.3 2103.7L1448.7 2107.1L1449.3 2105L1450.2 2102.1L1451.3 2098.4L1452.4 2094.3L1453.4 2089.8L1453.9 2085.3L1454 2080.8L1453.6 2076.5L1453.1 2072.2L1452.6 2067.9L1452.2 2063.8L1452.1 2059.6L1452.3 2054.7L1452.6 2049.2L1453.1 2043.4L1453.6 2038L1454.1 2033.3L1454.3 2030ZM1442.6 2094.2L1439.9 2096.7L1436.2 2100.2L1431.9 2104.2L1427.2 2108.5L1422.4 2112.7L1417.9 2116.5L1413.3 2119.8L1408.4 2123.1L1403.2 2126.4L1398 2129.7L1393 2133.1L1388.5 2136.5L1384.4 2140L1380.7 2143.5L1377.3 2147L1374.1 2150.5L1371.3 2154L1368.6 2157.6L1366.4 2161.4L1364.7 2165.3L1363.4 2169L1362.3 2172.3L1361.1 2175.3L1359.6 2177.7L1357.8 2179.9L1356 2181.8L1354 2183.4L1351.7 2184.9L1349.2 2186.3L1346.3 2187.6L1342.7 2188.7L1338.4 2189.7L1333.8 2190.5L1329.3 2191.2L1325.2 2192.1L1321.8 2193.1L1319.4 2194.5L1317.6 2196L1316.3 2197.6L1315.4 2199.1L1314.8 2200.3L1314.3 2201.1L1315.3 2201.9L1316 2201L1316.7 2199.9L1317.6 2198.6L1318.8 2197.3L1320.4 2196.1L1322.6 2195.1L1325.7 2194.3L1329.7 2193.7L1334.2 2193.1L1338.9 2192.5L1343.4 2191.8L1347.3 2190.8L1350.6 2189.6L1353.6 2188.4L1356.3 2186.9L1358.8 2185.3L1361.2 2183.3L1363.6 2180.9L1365.8 2177.9L1367.5 2174.6L1369 2171.1L1370.4 2167.8L1372.1 2164.6L1374.2 2161.6L1376.7 2158.6L1379.6 2155.5L1382.7 2152.5L1386.1 2149.4L1389.8 2146.3L1393.7 2143.3L1398 2140.2L1402.8 2137.1L1407.9 2134L1413.2 2130.8L1418.5 2127.4L1423.5 2123.9L1428.5 2120L1433.6 2115.8L1438.5 2111.5L1443 2107.5L1446.7 2104.2L1449.4 2101.8ZM1350.3 2185.8L1349.9 2188.9L1349.4 2193.3L1348.9 2198.5L1348.1 2203.8L1347 2209L1345.6 2213.3L1343.9 2216.9L1341.6 2220.3L1339.1 2223.4L1336.5 2226.5L1333.8 2229.6L1331.2 2232.9L1328.7 2236.1L1326.3 2239.4L1323.8 2242.6L1321.4 2245.9L1318.9 2249.2L1316.5 2252.7L1313.9 2256.6L1311.1 2260.8L1308.4 2265.2L1305.8 2269.2L1303.6 2272.7L1302.1 2275.1L1302.9 2275.7L1304.6 2273.3L1306.8 2269.9L1309.5 2265.9L1312.4 2261.6L1315.2 2257.5L1317.9 2253.7L1320.4 2250.3L1322.9 2247L1325.4 2243.8L1327.8 2240.6L1330.3 2237.4L1332.8 2234.1L1335.4 2231L1338.1 2228L1340.9 2224.9L1343.5 2221.7L1345.9 2218.2L1348 2214.3L1349.6 2209.7L1350.8 2204.4L1351.8 2198.9L1352.6 2193.7L1353.2 2189.3L1353.7 2186.2ZM1333.2 2231.2L1333.6 2233.1L1334.2 2235.8L1334.9 2238.9L1335.5 2242.2L1336.1 2245.4L1336.3 2248.3L1336.2 2251L1335.9 2253.8L1335.4 2256.6L1334.8 2259.2L1334.3 2261.3L1334 2262.9L1335 2263.1L1335.3 2261.5L1335.9 2259.4L1336.5 2256.9L1337.1 2254L1337.5 2251.1L1337.7 2248.3L1337.5 2245.3L1337 2242L1336.4 2238.6L1335.8 2235.4L1335.2 2232.7L1334.8 2230.8ZM1437.2 2098.2L1435.4 2103.3L1432.8 2110.5L1429.8 2118.9L1426.7 2127.7L1423.7 2136.1L1421.2 2143.3L1419.3 2149.2L1417.7 2154.5L1416.3 2159.3L1415 2163.7L1413.6 2168.2L1411.9 2172.8L1409.8 2177.5L1407.5 2182.4L1405 2187.3L1402.4 2192.2L1399.9 2197.2L1397.6 2202.3L1395.3 2207.2L1393 2212.2L1390.8 2217.2L1388.7 2222.3L1386.8 2227.5L1385.4 2232.6L1384.4 2237.8L1383.6 2242.9L1383.1 2248L1382.9 2253.2L1383.1 2258.3L1383.7 2263.5L1384.8 2268.7L1386.5 2273.9L1388.6 2279L1390.6 2284L1392.6 2288.7L1394.1 2293.2L1395.4 2297.6L1396.8 2301.7L1397.9 2305.7L1398.8 2309.5L1399.3 2313.2L1399.3 2317L1398.7 2320.9L1397.5 2324.9L1395.9 2328.9L1394.1 2333.1L1392 2337.2L1390 2341.3L1387.8 2345.3L1385.3 2349.1L1382.6 2353L1379.9 2357.1L1377.5 2361.4L1375.6 2366.2L1374.2 2371.9L1373.1 2378.4L1372.3 2385.2L1371.8 2391.6L1371.3 2397.1L1370.9 2400.9L1371.9 2401.1L1372.4 2397.2L1372.9 2391.7L1373.6 2385.4L1374.5 2378.6L1375.7 2372.2L1377.2 2366.8L1379.2 2362.2L1381.6 2358.1L1384.3 2354.2L1387.1 2350.4L1389.8 2346.5L1392.2 2342.5L1394.4 2338.4L1396.6 2334.3L1398.6 2330.2L1400.4 2326L1401.8 2321.7L1402.7 2317.4L1402.9 2313.1L1402.5 2308.9L1401.6 2304.7L1400.5 2300.6L1399.3 2296.4L1398.1 2292L1396.6 2287.2L1394.8 2282.3L1392.8 2277.3L1391 2272.3L1389.6 2267.5L1388.7 2262.7L1388.5 2258.1L1388.6 2253.3L1389 2248.6L1389.8 2243.8L1390.8 2239.1L1392 2234.4L1393.5 2229.7L1395.3 2224.9L1397.4 2220.2L1399.7 2215.3L1402.1 2210.4L1404.4 2205.5L1406.8 2200.7L1409.4 2195.9L1412.1 2191L1414.8 2186.1L1417.4 2181.1L1419.7 2176L1421.7 2171.1L1423.4 2166.5L1424.9 2161.9L1426.3 2157.1L1428 2152L1430 2146.3L1432.6 2139.3L1435.7 2131L1439 2122.2L1442.2 2113.9L1444.9 2106.8L1446.8 2101.8ZM1397.9 2310.5L1399.3 2313.5L1401.3 2317.6L1403.6 2322.4L1406 2327.6L1408.3 2332.7L1410.2 2337.3L1411.8 2341.8L1413.3 2346.5L1414.6 2351.2L1415.8 2355.5L1416.8 2359.1L1417.5 2361.7L1418.5 2361.5L1417.8 2358.8L1416.9 2355.2L1415.9 2350.8L1414.7 2346.1L1413.3 2341.3L1411.8 2336.7L1410 2332L1407.8 2326.8L1405.5 2321.5L1403.3 2316.6L1401.5 2312.5L1400.1 2309.5ZM1434.3 2124.1L1433.2 2128.5L1431.7 2134.7L1429.8 2142L1428 2149.7L1426.2 2157.2L1424.8 2163.7L1423.6 2169.3L1422.5 2174.4L1421.4 2179.3L1420.6 2184.2L1420.2 2189.1L1420.2 2194.3L1420.9 2199.5L1422.2 2204.7L1423.7 2209.7L1425.4 2214.6L1426.9 2219.3L1428 2224L1428.7 2228.7L1429.1 2233.4L1429.4 2238.2L1429.7 2243.1L1430.2 2248.2L1430.9 2253.5L1432 2259.2L1433.3 2265.1L1434.7 2271.2L1436.1 2277.2L1437.5 2282.9L1438.7 2288.1L1439.8 2292.6L1440.9 2296.6L1441.9 2300.3L1442.7 2304L1443.5 2307.9L1444.1 2312.4L1444.5 2317.9L1444.7 2324.3L1444.8 2331.1L1444.8 2337.5L1444.8 2342.9L1444.8 2346.8L1445.8 2346.8L1445.9 2342.9L1446.2 2337.5L1446.5 2331.1L1446.7 2324.3L1446.7 2317.8L1446.5 2312.2L1446.1 2307.6L1445.5 2303.5L1444.8 2299.7L1443.9 2295.9L1443 2291.9L1442.1 2287.3L1441 2282.1L1439.7 2276.3L1438.4 2270.3L1437.1 2264.3L1436 2258.4L1435.1 2252.9L1434.5 2247.8L1434.2 2242.8L1434.1 2238L1433.9 2233.1L1433.6 2228.2L1433 2223.2L1432 2218L1430.6 2213L1429 2208L1427.7 2203.2L1426.7 2198.5L1426.2 2193.9L1426.3 2189.5L1426.9 2185L1427.7 2180.6L1428.8 2175.8L1430.1 2170.8L1431.4 2165.3L1433 2158.8L1434.8 2151.5L1436.9 2143.8L1438.8 2136.5L1440.5 2130.4L1441.7 2125.9ZM1443.2 2308.6L1444.8 2310.8L1447 2313.8L1449.7 2317.3L1452.4 2321L1454.9 2324.5L1456.9 2327.4L1458.3 2329.9L1459.4 2332.4L1460.3 2334.6L1461.1 2336.6L1461.6 2338.3L1462.1 2339.6L1463.1 2339.2L1462.7 2338L1462.2 2336.2L1461.6 2334.2L1460.8 2331.8L1459.7 2329.2L1458.3 2326.6L1456.4 2323.5L1454 2319.9L1451.3 2316.1L1448.6 2312.6L1446.4 2309.5L1444.8 2307.4ZM1443.3 2096.9L1445.2 2101.4L1447.8 2107.9L1450.9 2115.5L1454.3 2123.5L1457.9 2131L1461.4 2137.2L1465 2142.1L1468.7 2146L1472.4 2149.2L1475.9 2151.9L1479 2154.5L1481.9 2157.3L1484.7 2160.3L1487.4 2163.3L1489.9 2166.2L1492.2 2169.2L1494.4 2172.4L1496.4 2175.9L1498.3 2180L1500 2184.9L1501.6 2190.2L1503.2 2195.6L1505 2200.7L1507.2 2205.1L1509.6 2208.7L1512.3 2211.6L1515 2214L1517.8 2216L1520.4 2218L1523 2220L1525.6 2222.1L1528.3 2224.1L1531 2225.9L1533.5 2227.8L1535.9 2229.7L1538.1 2231.7L1540.2 2234.1L1542.2 2236.8L1544.2 2239.6L1545.9 2242.2L1547.3 2244.5L1548.4 2246.1L1549.2 2245.5L1548.3 2243.9L1547 2241.5L1545.4 2238.8L1543.6 2235.8L1541.7 2232.9L1539.7 2230.3L1537.5 2228L1535.1 2225.8L1532.6 2223.8L1530.1 2221.7L1527.6 2219.6L1525.2 2217.4L1522.8 2215.1L1520.3 2213L1517.8 2210.8L1515.6 2208.5L1513.5 2205.8L1511.6 2202.7L1510 2198.8L1508.7 2194L1507.4 2188.7L1506 2183.2L1504.5 2177.8L1502.6 2172.9L1500.4 2168.7L1498 2165.1L1495.5 2161.7L1493 2158.5L1490.3 2155.4L1487.5 2152.1L1484.3 2148.8L1480.9 2145.9L1477.6 2143.1L1474.4 2140.2L1471.4 2136.8L1468.6 2132.8L1465.7 2127.1L1462.7 2119.9L1459.6 2112L1456.8 2104.4L1454.5 2097.8L1452.7 2093.1ZM1506.5 2200.1L1507 2204.9L1507.8 2211.5L1508.7 2219.3L1509.5 2227.6L1510.3 2235.9L1510.8 2243.3L1510.9 2250.6L1510.9 2258.2L1510.8 2265.7L1510.6 2272.7L1510.4 2278.5L1510.3 2282.8L1511.3 2282.8L1511.5 2278.6L1511.9 2272.7L1512.3 2265.8L1512.6 2258.2L1512.9 2250.6L1512.8 2243.3L1512.5 2235.7L1512 2227.4L1511.3 2219.1L1510.5 2211.2L1509.9 2204.6L1509.5 2199.9ZM1690.9 2026.9L1690.9 2030.2L1690.9 2035L1690.9 2040.9L1691.1 2047.2L1691.5 2053.3L1692.3 2059.1L1693.8 2064.2L1695.9 2068.6L1698.1 2072.5L1700.1 2075.7L1701.7 2078.4L1702.6 2080.4L1703.2 2082.3L1703.7 2084.2L1704 2086.1L1704.2 2087.9L1704.4 2089.6L1704.6 2090.9L1718 2089.1L1717.9 2088L1717.7 2086.4L1717.4 2084.2L1717 2081.5L1716.3 2078.6L1715.2 2075.2L1713.4 2071.7L1711.3 2068.5L1709.3 2065.5L1707.5 2062.6L1706.3 2059.8L1705.7 2056.9L1705.9 2053.1L1706.7 2048.1L1707.8 2042.6L1709.2 2037.3L1710.4 2032.5L1711.1 2029.1ZM1704 2080.8L1702.8 2081.5L1701 2082.6L1698.7 2084L1696.2 2085.7L1693.6 2087.9L1691.3 2090.6L1689.4 2093.8L1687.9 2097.4L1686.6 2101L1685.2 2104.6L1683.7 2107.7L1681.9 2110.3L1679.6 2112.7L1676.8 2115L1673.7 2117.1L1670.3 2119.2L1666.9 2121L1663.7 2122.6L1660.6 2123.8L1657.3 2124.6L1653.8 2125.2L1650.3 2125.8L1647 2126.9L1644.1 2128.6L1641.6 2131L1639.3 2133.9L1637.4 2137.1L1635.8 2140.4L1634.6 2143.6L1634 2146.7L1633.9 2149.5L1634.5 2152.3L1635.5 2154.9L1636.7 2157.4L1638 2159.7L1639.1 2162L1640.4 2164.3L1641.8 2166.7L1643.3 2169L1644.8 2171.1L1646 2172.9L1646.9 2174.2L1647.7 2173.6L1646.9 2172.3L1645.8 2170.5L1644.5 2168.3L1643.1 2166L1641.8 2163.6L1640.7 2161.2L1639.6 2158.9L1638.4 2156.5L1637.3 2154.1L1636.4 2151.7L1636 2149.3L1636 2146.9L1636.7 2144.2L1637.8 2141.2L1639.3 2138.1L1641.2 2135.2L1643.3 2132.6L1645.5 2130.6L1648 2129.4L1650.9 2128.8L1654.3 2128.4L1657.8 2128.1L1661.6 2127.6L1665.3 2126.6L1668.9 2125.1L1672.6 2123.5L1676.3 2121.6L1679.9 2119.5L1683.3 2117.1L1686.5 2114.3L1689 2110.9L1691 2107.2L1692.6 2103.4L1694 2099.8L1695.3 2096.8L1696.7 2094.6L1698.4 2093L1700.4 2091.5L1702.5 2090.2L1704.6 2089L1706.5 2088.1L1708 2087.2ZM1704.2 2088.2L1704.5 2092.1L1704.9 2097.5L1705.4 2103.8L1705.8 2110.3L1705.9 2116.5L1705.5 2121.7L1704.7 2126L1703.3 2129.9L1701.7 2133.7L1699.9 2137.5L1698 2141.5L1696.2 2145.6L1694.7 2149.9L1693.2 2154.2L1691.7 2158.5L1690.2 2162.7L1688.8 2166.7L1687.3 2170.6L1685.8 2174.2L1684.2 2177.7L1682.7 2181.1L1681.1 2184.3L1679.6 2187.4L1678 2190.3L1676.4 2193L1674.7 2195.4L1672.9 2197.7L1671.2 2200.1L1669.7 2202.7L1668.5 2205.6L1667.7 2208.9L1667.2 2212.7L1666.9 2216.6L1666.7 2220.3L1666.6 2223.4L1666.5 2225.6L1667.5 2225.6L1667.7 2223.4L1668 2220.4L1668.4 2216.7L1668.9 2212.9L1669.6 2209.3L1670.5 2206.2L1671.7 2203.7L1673.2 2201.5L1674.9 2199.3L1676.8 2197L1678.7 2194.6L1680.6 2191.9L1682.3 2188.9L1684.1 2185.9L1685.8 2182.7L1687.6 2179.3L1689.4 2175.9L1691.1 2172.2L1692.9 2168.4L1694.7 2164.5L1696.5 2160.3L1698.3 2156.2L1700 2152L1701.8 2148L1703.6 2144.1L1705.5 2140.4L1707.5 2136.5L1709.5 2132.3L1711.1 2127.8L1712.3 2122.7L1712.8 2116.8L1712.9 2110.2L1712.7 2103.4L1712.3 2097L1712 2091.6L1711.8 2087.8ZM1709.8 2092.8L1710.5 2096.2L1711.6 2101.1L1712.8 2106.6L1713.9 2112.4L1714.7 2117.7L1714.9 2122L1714.5 2125.3L1713.8 2128.1L1712.7 2130.9L1711.2 2133.8L1709.7 2137L1708.2 2140.6L1706.7 2144.5L1705.1 2148.5L1703.4 2152.7L1701.8 2157L1700.2 2161.3L1698.7 2165.5L1697.3 2169.6L1695.8 2173.7L1694.4 2177.9L1693.1 2182.2L1692.2 2186.5L1691.6 2190.8L1691.4 2195.1L1691.4 2199.4L1691.8 2203.7L1692.5 2207.9L1693.4 2212.2L1694.6 2216.4L1696.2 2220.7L1698.1 2225L1700.3 2229.3L1702.7 2233.5L1705.1 2237.5L1707.5 2241.3L1710 2244.9L1712.7 2248.1L1715.4 2251.2L1718.1 2254.2L1720.4 2257.3L1722.5 2260.7L1724.2 2264.5L1725.8 2268.6L1727.2 2273L1728.4 2277.3L1729.4 2281.3L1730.2 2284.8L1730.6 2288L1730.8 2290.9L1730.8 2293.6L1730.7 2296L1730.5 2298L1730.5 2299.5L1731.5 2299.5L1731.6 2298L1731.9 2296.1L1732.1 2293.7L1732.3 2290.9L1732.2 2287.8L1731.8 2284.6L1731.2 2280.9L1730.3 2276.8L1729.2 2272.4L1727.9 2268L1726.4 2263.6L1724.7 2259.5L1722.6 2255.9L1720.3 2252.5L1717.7 2249.3L1715.1 2246.2L1712.6 2242.9L1710.3 2239.5L1708.1 2235.7L1705.9 2231.7L1703.7 2227.5L1701.7 2223.4L1699.9 2219.2L1698.6 2215.2L1697.6 2211.2L1696.9 2207.2L1696.4 2203.2L1696.2 2199.2L1696.3 2195.3L1696.6 2191.4L1697.3 2187.5L1698.3 2183.6L1699.7 2179.7L1701.2 2175.7L1702.8 2171.6L1704.3 2167.5L1705.9 2163.4L1707.6 2159.3L1709.4 2155.1L1711.1 2151L1712.9 2147L1714.4 2143.2L1715.9 2139.9L1717.5 2137L1719.2 2133.9L1720.7 2130.6L1721.8 2126.8L1722.5 2122.4L1722.4 2117.1L1721.8 2111.2L1720.8 2105.1L1719.7 2099.4L1718.8 2094.6L1718.2 2091.2ZM1712.2 2090.7L1714.2 2093.4L1717 2097L1720.2 2101.3L1723.6 2105.8L1727 2110.4L1730 2114.6L1732.6 2118.6L1735.1 2122.6L1737.6 2126.6L1740.1 2130.7L1742.5 2134.8L1745 2138.8L1747.5 2142.9L1749.9 2147.2L1752.4 2151.6L1754.9 2155.9L1757.5 2160L1760.4 2163.8L1763.5 2167L1766.8 2169.5L1770 2171.6L1772.9 2173.6L1775.5 2175.7L1778 2178.3L1780.3 2181.4L1782.6 2185L1784.7 2188.7L1786.7 2192.8L1788.6 2197.1L1790.1 2201.7L1791.3 2206.7L1792.1 2212.4L1792.7 2218.4L1793.3 2224.6L1794.2 2230.6L1795.7 2236.1L1797.8 2240.9L1800.4 2245.2L1803.2 2249.1L1806 2252.8L1808.7 2256.6L1811 2260.8L1813.1 2265.3L1815.2 2269.9L1817.1 2274.7L1818.9 2279.6L1820.2 2284.7L1821.2 2289.8L1821.4 2295.1L1821.1 2300.7L1820.5 2306.5L1819.7 2312.3L1819.1 2318.2L1818.9 2324.1L1819.1 2330.3L1819.5 2336.9L1820.1 2343.6L1820.8 2349.7L1821.3 2354.9L1821.7 2358.6L1822.7 2358.6L1822.4 2354.8L1822 2349.6L1821.5 2343.4L1821 2336.8L1820.7 2330.2L1820.5 2324.1L1820.9 2318.4L1821.5 2312.6L1822.3 2306.7L1823.1 2300.9L1823.4 2295.2L1823.2 2289.6L1822.4 2284.2L1821.1 2279L1819.5 2273.9L1817.7 2268.9L1815.7 2264.1L1813.6 2259.4L1811.3 2255L1808.7 2251L1806 2247.1L1803.4 2243.3L1801.1 2239.3L1799.3 2234.9L1798.2 2229.8L1797.5 2224.1L1797.1 2218.1L1796.7 2211.9L1796.1 2205.9L1795.1 2200.3L1793.5 2195.3L1791.7 2190.6L1789.7 2186.2L1787.5 2182.1L1785.2 2178.2L1782.6 2174.5L1779.8 2171.3L1776.7 2168.6L1773.6 2166.4L1770.7 2164.3L1768 2162.1L1765.6 2159.4L1763.3 2156.1L1760.9 2152.3L1758.6 2148.1L1756.3 2143.7L1754 2139.3L1751.6 2135L1749.2 2130.8L1746.9 2126.7L1744.5 2122.5L1742.1 2118.4L1739.7 2114.2L1737 2110L1734.1 2105.5L1730.8 2100.7L1727.4 2096L1724.3 2091.6L1721.6 2087.9L1719.8 2085.3ZM1794.8 2229.7L1793.5 2234.2L1791.6 2240.8L1789.4 2248.5L1787.3 2256.4L1785.5 2263.8L1784.4 2269.9L1784.1 2274.7L1784.4 2278.9L1785.1 2282.5L1786 2285.5L1786.8 2287.9L1787.2 2289.8L1788.2 2289.6L1787.8 2287.7L1787.1 2285.2L1786.4 2282.2L1785.9 2278.7L1785.7 2274.7L1786 2270.1L1787.3 2264.2L1789.2 2256.9L1791.5 2249.1L1793.8 2241.4L1795.8 2234.9L1797.2 2230.3ZM1715 2085.7L1719.3 2086.7L1725.4 2088.2L1732.5 2090L1739.8 2091.9L1746.7 2093.7L1752.2 2095.4L1756.4 2096.9L1759.9 2098.3L1762.9 2099.7L1765.6 2101.2L1768.4 2102.8L1771.5 2104.6L1774.7 2106.8L1778 2109.2L1781.3 2111.9L1784.7 2114.5L1788.2 2116.9L1791.8 2118.9L1795.4 2120.3L1799.1 2121.2L1802.8 2121.8L1806.2 2122.2L1809.3 2122.6L1812 2123.2L1814.3 2123.9L1816.3 2124.7L1818.1 2125.5L1819.7 2126.3L1821 2127L1822 2127.4L1822.4 2126.6L1821.5 2126L1820.3 2125.2L1818.8 2124.3L1817 2123.2L1815 2122.2L1812.6 2121.2L1809.8 2120.3L1806.7 2119.6L1803.3 2118.9L1799.9 2118L1796.6 2116.9L1793.4 2115.5L1790.4 2113.6L1787.3 2111.2L1784.2 2108.4L1781 2105.6L1777.7 2102.8L1774.3 2100.4L1771.2 2098.3L1768.3 2096.5L1765.4 2094.8L1762.2 2093.2L1758.6 2091.5L1754.2 2089.8L1748.5 2087.8L1741.6 2085.6L1734.3 2083.4L1727.2 2081.3L1721.2 2079.6L1717 2078.3ZM1788.7 2114.8L1790.6 2117.8L1793.2 2122.1L1796.4 2127.1L1799.8 2132.5L1803.2 2137.7L1806.5 2142.5L1809.9 2147L1813.5 2151.5L1817.2 2155.9L1820.7 2160L1823.9 2163.8L1826.5 2167L1828.6 2169.5L1830.2 2171.6L1831.5 2173.3L1832.6 2174.7L1833.4 2175.8L1834.1 2176.7L1834.9 2176.1L1834.3 2175.2L1833.5 2174L1832.5 2172.6L1831.3 2170.9L1829.7 2168.7L1827.7 2166L1825.1 2162.8L1822 2159L1818.6 2154.8L1815 2150.3L1811.5 2145.8L1808.3 2141.3L1805.1 2136.5L1801.8 2131.2L1798.6 2125.7L1795.6 2120.6L1793.1 2116.3L1791.3 2113.2Z" fill="#a8b48e"/><path d="M1047 1830L1052.9 1853.6L1058.8 1867.4L1066 1869L1068.7 1859.6L1076.6 1875.3L1080.5 1887.1L1082.5 1870.4L1092.3 1889.1L1100.2 1904.9L1108.1 1914.7L1121.9 1920.6L1124.8 1908.8L1131.7 1924.6L1143.5 1936.4L1157.3 1944.3L1178 1949.2L1175.1 1932.5L1188.9 1948.2L1202.7 1958.1L1214.5 1967.9L1222.4 1983.7L1220.4 1966L1236.2 1979.8L1248 1987.6L1248 1987.6C1249.3 1987.9 1251.3 1988.9 1255.9 1989.6C1260.5 1990.3 1268.2 1990.9 1275.6 1991.6C1282.9 1992.2 1289 1993.4 1300 1993.5C1311 1993.6 1329.1 1992.7 1341.9 1992.1C1354.7 1991.5 1365.7 1991 1376.9 1989.8C1388.1 1988.6 1398.7 1984 1409 1984.8C1419.3 1985.6 1429.5 1991.4 1438.5 1994.7C1447.5 1998 1454.6 2002.1 1463.2 2004.5C1471.8 2006.9 1482.6 2009 1490 2009C1497.4 2009 1504.6 2005.2 1507.5 2004.5L1507.5 2004.5L1492.7 1984.8L1477.9 1970L1458.2 1963.9L1473 1960.2L1463.2 1947.9L1445.9 1923.3L1427.4 1914.6L1438.5 1910.9L1423.7 1891.2L1404 1861.7L1400 1840L1495 1840L1490.2 1861.7L1487.8 1886.3L1487.8 1910.9L1492.7 1930.6L1502.6 1947.9L1517.3 1950.3L1519.8 1967.6L1529.7 1984.8L1529.7 1984.8C1532.2 1986.8 1539.1 1993.8 1544.4 1997.1C1549.7 2000.4 1554.7 2002.8 1561.7 2004.5C1568.7 2006.2 1578.1 2007.4 1586.3 2007C1594.5 2006.6 1602.7 2004.9 1610.9 2002C1619.1 1999.1 1627.4 1992.7 1635.6 1989.8C1643.8 1986.9 1652 1984.8 1660.2 1984.8C1668.4 1984.8 1676.6 1987.3 1684.8 1989.8C1693 1992.3 1701.4 1996.8 1709.5 1999.6C1717.6 2002.4 1724.8 2004 1733.5 2006.4C1742.2 2008.8 1752.8 2012.9 1761.6 2014.2C1770.4 2015.5 1779.2 2015.4 1786.2 2014.2C1793.2 2013 1797.1 2009.2 1803.4 2006.8C1809.7 2004.3 1820.5 2000.7 1823.9 1999.5L1823.9 1999.5L1819.5 2057.3L1819.5 2057.3C1816 2056.1 1806.1 2052.3 1798.5 2050C1790.9 2047.7 1782.1 2044.7 1773.9 2043.5C1765.7 2042.3 1756.7 2043.2 1749.3 2042.6C1741.9 2042 1735.5 2041.6 1729.6 2040.1C1723.7 2038.6 1720.5 2035.6 1713.8 2033.5C1707.1 2031.4 1699 2029.1 1689.2 2027.6C1679.4 2026.1 1666.2 2023.6 1654.7 2024.6C1643.2 2025.6 1631.7 2029.7 1620.2 2033.5C1608.7 2037.3 1598 2044.7 1585.7 2047.3C1573.4 2049.9 1561.1 2050.4 1546.3 2049.3C1531.5 2048.2 1512.2 2043 1497 2040.9C1481.8 2038.8 1465.5 2037.7 1455.2 2036.5C1445 2035.3 1445 2035.1 1435.5 2033.5C1426 2031.9 1412.9 2027.6 1398.5 2027C1384.1 2026.4 1365.7 2028.7 1349.3 2030C1332.9 2031.3 1308.2 2034.1 1300 2034.9L1300 2034.9L1255.9 2027L1226.3 2025.1L1196.7 2027L1208.6 2017.2L1173.1 2012.3L1204.6 2005.4L1186.9 2001.4L1167.2 1995.5L1147.5 1987.6L1116 1985.7L1137.6 1975.8L1127.8 1969.9L1110 1962L1090.3 1952.2L1064.7 1950.2L1086.4 1942.3L1062.8 1936.4L1045 1928.5L1021.4 1926.6L1029.3 1912.8L1005.6 1909.8L1015.5 1902.9L1000 1888Z" fill="url(#g)" stroke="#739d8e" stroke-width="1.7" stroke-linejoin="round"/><path d="M1037 1902L1052 1906L1043 1894L1059 1896L1056 1880M1088 1926L1100 1930L1094 1921L1110 1925L1107 1913M1160 1958L1172 1962L1165 1953L1180 1956M1200 1990L1212 1994L1208 1984L1222 1988M1452 1916L1460 1908L1464 1917L1472 1905M1490 1952L1496 1942L1502 1953L1508 1940" fill="none" stroke="#739d8e" stroke-width="1.7" stroke-linejoin="round"/><path d="M850 1690L869.3 1777.1L912.4 1823.3L940 1843L967.8 1854L989.4 1878.7L1004.8 1900.2L1040 1905L1055 1863.3L1046 1838.7L1041 1807.9L1039 1775L1019 1772L1018 1706L1003 1660L996 1625L960 1630L900 1640Z" fill="url(#g)"/><path d="M945 1846C939.6 1842.2 925 1834.8 912.4 1823.3C899.8 1811.8 883.7 1794 869.3 1777.1C854.9 1760.2 840.1 1742.2 826.2 1721.7C812.4 1701.2 797.5 1675.5 786.2 1653.9C774.9 1632.4 765.2 1607.8 758.5 1592.4C751.8 1577 747.4 1571 746 1561.6C744.6 1552.2 746.4 1542.7 750 1536C753.6 1529.3 762.4 1523.6 767.7 1521.6C773 1519.6 778.3 1517.6 782 1524C785.7 1530.4 785.3 1540.7 790 1560C794.7 1579.3 800 1613.3 810 1640C820 1666.7 835 1695 850 1720C865 1745 883.3 1771.7 900 1790C916.7 1808.3 941.7 1823.3 950 1830" fill="url(#g)" stroke="#739d8e" stroke-width="1.7" stroke-linejoin="round" stroke-linecap="round"/><path d="M921.7 1804.8C918.1 1801.2 909.8 1793.8 900 1783C890.2 1772.2 874.8 1756.4 863 1740C851.2 1723.6 839.5 1704.2 829.3 1684.7C819.1 1665.2 809.3 1643.5 801.6 1623C793.9 1602.5 786.9 1580.4 783 1561.6C779.1 1542.8 779.3 1527.3 778 1510C776.7 1492.7 776.9 1476.9 775.4 1457.9C773.9 1439 771.2 1414.8 769.2 1396.3C767.2 1377.8 764 1358.4 763.5 1347C763 1335.6 763.9 1332.8 766 1328C768.1 1323.2 772 1320.2 776 1318C780 1315.8 785.2 1315 790 1314.7C794.8 1314.4 801.5 1313 804.7 1316.3C808 1319.6 808.2 1326.5 809.5 1334.7C810.8 1342.9 811.3 1355.5 812.4 1365.5C813.5 1375.5 816.1 1380.9 816 1395C815.9 1409.1 812.7 1430.8 812 1450C811.3 1469.2 810.7 1490 812 1510C813.3 1530 816.2 1550 820 1570C823.8 1590 828.3 1610 835 1630C841.7 1650 849.2 1670 860 1690C870.8 1710 886.7 1731.7 900 1750C913.3 1768.3 933.3 1791.7 940 1800" fill="url(#g)" stroke="#739d8e" stroke-width="1.7" stroke-linejoin="round" stroke-linecap="round"/><path d="M937 1804.8C933.9 1801.2 927.3 1793.8 918.6 1783C909.9 1772.2 895.5 1756.4 884.7 1740C873.9 1723.6 863.2 1704.2 854 1684.7C844.8 1665.2 836 1643.5 829.3 1623C822.6 1602.5 817.3 1581.4 814 1561.6C810.7 1541.8 809.8 1523.3 809.3 1504C808.8 1484.7 809.3 1465.6 810.8 1445.6C812.3 1425.6 815.4 1404.5 818.5 1384C821.6 1363.5 826 1340.9 829.3 1322.4C832.6 1303.9 836.2 1291.7 838.5 1273.2C840.8 1254.7 843.1 1230.3 843.1 1211.6C843.1 1192.9 840.3 1174.3 838.5 1161C836.7 1147.7 832.1 1139.3 832.4 1131.8C832.6 1124.3 835.9 1119.8 840 1116C844.1 1112.2 851.5 1110.1 857 1109.3C862.5 1108.5 869.1 1109.8 873 1111C876.9 1112.2 878.4 1109.6 880.1 1116.4C881.8 1123.2 882.3 1137.9 883.2 1151.8C884.1 1165.7 885.5 1179.8 885.5 1200C885.5 1220.2 884.5 1254.9 883.2 1273.2C882 1291.5 880.9 1291.5 878 1310C875.1 1328.5 869.3 1361.5 866 1384C862.7 1406.5 859.7 1425 858 1445C856.3 1465 855.7 1484.7 856 1504C856.3 1523.3 857.3 1541.2 860 1561C862.7 1580.8 866.2 1602.3 872 1623C877.8 1643.7 886.2 1665.5 895 1685C903.8 1704.5 915.8 1722.5 925 1740C934.2 1757.5 945.8 1781.7 950 1790" fill="url(#g)" stroke="#739d8e" stroke-width="1.7" stroke-linejoin="round" stroke-linecap="round"/><path d="M885 1745C883.4 1739.5 877.1 1724.2 875.5 1712C873.9 1699.8 877.5 1686.8 875.5 1672C873.5 1657.2 866.8 1641.4 863.2 1623C859.6 1604.6 856.3 1582.1 854 1561.6C851.7 1541.1 849.2 1517.3 849.3 1500C849.4 1482.7 853.2 1472.6 854.5 1457.9C855.8 1443.2 855.5 1427.1 857 1411.7C858.5 1396.3 860.1 1380.4 863.2 1365.5C866.3 1350.6 870.9 1335.2 875.5 1322.4C880.1 1309.6 886.8 1299.3 890.9 1288.5C895 1277.7 896.6 1269.2 900 1257.8C903.4 1246.4 907.7 1232.5 911.1 1220C914.5 1207.5 917.8 1195.3 920.3 1183C922.8 1170.7 924.7 1159.8 925.9 1146C927.1 1132.2 927.9 1114.4 927.7 1100C927.5 1085.6 926.2 1073.4 924.7 1059.5C923.2 1045.6 920.7 1032.8 918.6 1016.4C916.5 1000 914.2 979.4 912.4 960.9C910.6 942.4 908.8 926 907.8 905.5C906.8 885 905.9 856.8 906.3 837.8C906.7 818.8 908.2 801 910.3 791.6C912.4 782.2 915 783.8 919 781.5C923 779.2 928.8 777.8 934 777.7C939.2 777.6 946.4 779.5 950 781C953.6 782.5 955.6 777.5 955.5 787C955.4 796.5 950.7 821.3 949.4 838C948.1 854.7 947 870.7 947.8 887C948.6 903.3 951.2 921.2 954 936C956.8 950.8 961.3 960.3 964.8 976C968.3 991.7 973.3 1009.3 975 1030C976.7 1050.7 976.7 1075 975 1100C973.3 1125 970 1155 965 1180C960 1205 952.5 1226.7 945 1250C937.5 1273.3 927.5 1295 920 1320C912.5 1345 904.5 1373.3 900 1400C895.5 1426.7 893.8 1453.3 893 1480C892.2 1506.7 893 1533.3 895 1560C897 1586.7 900.8 1613.3 905 1640C909.2 1666.7 917.5 1706.7 920 1720" fill="url(#g)" stroke="#739d8e" stroke-width="1.7" stroke-linejoin="round" stroke-linecap="round"/><path d="M905 1745C904.2 1740.1 901.3 1726.6 900 1715.5C898.7 1704.4 900.6 1694 897 1678.6C893.4 1663.2 884.2 1642.5 878.5 1623C872.8 1603.5 866.8 1582.1 863 1561.6C859.2 1541.1 855.7 1517.3 855.5 1500C855.3 1482.7 859.9 1472.7 861.6 1458C863.4 1443.3 863.7 1427.4 866 1412C868.3 1396.6 871.4 1380.4 875.5 1365.5C879.6 1350.6 886.8 1332.8 890.9 1322.4C895 1312 895.4 1314.1 900 1303.2C904.6 1292.3 913 1270.9 918.5 1257C924 1243.1 928.7 1232.3 933.3 1220C937.9 1207.7 942.5 1193.9 946.2 1183.1C949.9 1172.3 952.8 1163.6 955.4 1155.4C958 1147.2 957 1150.1 961.9 1134.2C966.8 1118.3 976.6 1086.9 985 1060C993.4 1033.1 1006.4 996.7 1012.5 973C1018.6 949.3 1017.9 936.5 1021.7 918C1025.5 899.5 1030.2 881 1035.6 862C1041 843 1047.3 821.3 1054 804C1060.7 786.7 1068.1 772.7 1075.6 758C1083 743.3 1093.5 724 1098.7 716C1103.9 708 1103.7 711.2 1107 710C1110.3 708.8 1114.5 707.9 1118.7 708.5C1122.9 709.1 1128.4 709.9 1132 713.5C1135.6 717.1 1141.9 720.1 1140.2 730C1138.5 739.9 1128.5 759.2 1121.8 773C1115.1 786.8 1106.9 798.2 1100.2 813C1093.5 827.8 1087.3 843.5 1081.7 862C1076.1 880.5 1070.5 902.3 1066.4 924C1062.3 945.7 1060.9 969.3 1057.1 992C1053.2 1014.7 1047.9 1042 1043.3 1060C1038.7 1078 1034.1 1087.2 1029.3 1100C1024.5 1112.8 1019.4 1123.7 1014.5 1137C1009.6 1150.3 1005.2 1164.9 1000 1180C994.8 1195.1 987.5 1216.2 983.1 1227.5C978.8 1238.8 978.5 1238.3 973.9 1247.8C969.3 1257.3 961.5 1270.8 955.4 1284.7C949.2 1298.6 942.5 1317.1 937 1331C931.5 1344.9 926.1 1356.4 922.2 1367.9C918.4 1379.4 916 1385 913.9 1400C911.8 1415 910.6 1438 909.3 1457.9C908 1477.8 906 1499 906.3 1519.5C906.6 1540 908.8 1565.6 910.9 1581C913 1596.4 916.3 1598.8 918.6 1612C920.9 1625.2 922 1642 924.7 1660C927.4 1678 933.3 1710 935 1720" fill="url(#g)" stroke="#739d8e" stroke-width="1.7" stroke-linejoin="round" stroke-linecap="round"/><path d="M935 1720C933.3 1710 927.1 1676.2 925 1660C922.9 1643.8 923.1 1631 922.3 1623C921.5 1615 920 1621.4 920.1 1611.8C920.2 1602.2 921.4 1581 923.2 1565.6C925 1550.2 927.6 1534.9 930.9 1519.5C934.2 1504.1 938.1 1488.7 943.2 1473.3C948.3 1457.9 957.8 1439.3 961.7 1427.1C965.6 1414.9 963.5 1411.4 966.5 1400C969.5 1388.6 976 1371.6 979.4 1358.6C982.8 1345.5 984.9 1334 986.8 1321.7C988.6 1309.4 990.2 1297 990.5 1284.7C990.8 1272.4 989 1258.6 988.7 1247.8C988.4 1237 989.3 1229.2 988.7 1220C988.1 1210.8 986.9 1203.2 985 1192.4C983.1 1181.6 980.1 1166.2 977.6 1155.4C975.1 1144.6 972.1 1136.9 970.2 1127.7C968.4 1118.5 967.6 1116.5 966.5 1100C965.4 1083.5 964.1 1047 963.8 1028.7C963.5 1010.4 963.4 997.8 964.8 990.2C966.2 982.6 968.4 984.5 972 983C975.6 981.5 981.5 980.7 986.3 981C991.1 981.3 997.5 983 1001 985C1004.5 987 1006.5 983.5 1007.2 993.3C1007.9 1003.1 1005.4 1026.2 1005.4 1044C1005.4 1061.8 1006.1 1086 1007 1100C1007.9 1114 1008.9 1118.5 1010.8 1127.7C1012.7 1136.9 1015.4 1146.2 1018.2 1155.4C1021 1164.6 1025 1172.2 1027.5 1183C1030 1193.8 1031.8 1207.7 1033 1220C1034.2 1232.3 1034.9 1244.7 1034.9 1257C1034.9 1269.3 1033.9 1283.2 1033 1294C1032.1 1304.8 1030.5 1313.4 1029.3 1321.7C1028.1 1330 1028 1332.5 1025.6 1343.9C1023.2 1355.3 1020.1 1374 1015 1390C1009.9 1406 1001.7 1423.3 995 1440C988.3 1456.7 980.8 1473.3 975 1490C969.2 1506.7 964.2 1521.7 960 1540C955.8 1558.3 952 1580 950 1600C948 1620 947.2 1640 948 1660C948.8 1680 953.8 1710 955 1720" fill="url(#g)" stroke="#739d8e" stroke-width="1.7" stroke-linejoin="round" stroke-linecap="round"/><path d="M1000 1700C999.5 1687.2 996.7 1640.9 997 1623C997.3 1605.1 999.4 1602.6 1001.7 1592.4C1004 1582.2 1006.8 1571.9 1010.9 1561.6C1015 1551.3 1020.1 1540.2 1026.3 1530.8C1032.5 1521.4 1039.2 1515.6 1047.9 1505C1056.6 1494.4 1069.5 1480 1078.7 1467C1087.9 1454 1096.6 1441.4 1103.3 1427.1C1110 1412.8 1115.1 1396.3 1118.7 1380.9C1122.3 1365.5 1123.9 1348 1124.9 1334.7C1125.9 1321.4 1123.9 1308.5 1124.9 1300.9C1125.9 1293.3 1127.5 1292 1131 1289C1134.5 1286 1141.2 1283.5 1146 1283C1150.8 1282.5 1156.8 1284.6 1160 1286C1163.2 1287.4 1163.8 1283.5 1164.9 1291.6C1166 1299.7 1167.2 1319.8 1166.4 1334.7C1165.6 1349.6 1163.6 1365.5 1160.3 1380.9C1157 1396.3 1152.3 1412.8 1146.4 1427.1C1140.5 1441.4 1133.1 1454 1124.9 1467C1116.7 1480 1105.7 1494.4 1097 1505C1088.3 1515.6 1080.7 1520.3 1072.5 1530.8C1064.3 1541.2 1054.6 1555.9 1047.9 1567.7C1041.2 1579.5 1037.1 1589.8 1032.5 1601.6C1027.9 1613.4 1023.3 1626.7 1020.2 1638.5C1017.1 1650.3 1015.5 1664.2 1014 1672.4C1012.5 1680.6 1010.7 1679.9 1010.9 1687.8C1011.1 1695.7 1014.3 1714.6 1015 1720" fill="url(#g)" stroke="#739d8e" stroke-width="1.7" stroke-linejoin="round" stroke-linecap="round"/><path d="M949.4 1721.7C947.9 1715.5 941.9 1698.6 940.1 1684.7C938.3 1670.8 938.1 1653.9 938.6 1638.5C939.1 1623.1 940.9 1607.8 943.2 1592.4C945.5 1577 949.1 1561.6 952.4 1546.2C955.7 1530.8 957.6 1517.3 963.2 1500C968.9 1482.7 978.4 1459.2 986.3 1442.5C994.2 1425.8 1005.2 1412.4 1010.8 1400C1016.4 1387.6 1017.2 1377.2 1020 1367.9C1022.8 1358.6 1024.7 1351.6 1027.5 1343.9C1030.3 1336.2 1033.3 1331.6 1036.7 1321.7C1040.1 1311.8 1044.7 1297 1047.8 1284.7C1050.9 1272.4 1053.2 1260.1 1055.2 1247.8C1057.2 1235.5 1058.6 1223.1 1059.8 1210.8C1061 1198.5 1061.7 1186.3 1062.2 1174C1062.7 1161.7 1063 1149.3 1062.6 1137C1062.2 1124.7 1060.7 1112.2 1059.8 1100C1058.9 1087.8 1056.4 1071.2 1057.1 1064C1057.8 1056.8 1060.7 1058.6 1064 1057C1067.3 1055.4 1072.8 1054.4 1077.1 1054.2C1081.4 1054 1086.9 1054.9 1090 1056C1093.1 1057.1 1094 1053.7 1095.6 1061C1097.2 1068.3 1098.4 1087.3 1099.5 1100C1100.6 1112.7 1101.7 1124.7 1102.3 1137C1102.9 1149.3 1103.3 1161.7 1103.2 1174C1103.1 1186.3 1102.3 1198.5 1101.4 1210.8C1100.5 1223.1 1099.2 1235.5 1097.7 1247.8C1096.2 1260.1 1094.6 1272.4 1092.1 1284.7C1089.6 1297 1086.3 1309.4 1082.9 1321.7C1079.5 1334 1076.1 1345.5 1071.8 1358.6C1067.5 1371.6 1063.1 1384.8 1057 1400C1050.9 1415.2 1043.2 1433.3 1035 1450C1026.8 1466.7 1015 1485.5 1007.9 1500C1000.8 1514.5 997.1 1524.1 992.5 1536.9C987.9 1549.7 983.2 1565.2 980.1 1577C977 1588.8 974.8 1599.6 974 1607.8C973.2 1616 973.7 1614 975.5 1626C977.3 1638 980.9 1661 985 1680C989.1 1699 997.5 1730 1000 1740" fill="url(#g)" stroke="#739d8e" stroke-width="1.7" stroke-linejoin="round" stroke-linecap="round"/><path d="M872.4 1500C873.3 1507.7 875.4 1530.6 878 1546C880.6 1561.4 884.6 1579.6 887.8 1592.4C891 1605.2 895.5 1617.9 897 1623" fill="none" stroke="#739d8e" stroke-width="1.7" stroke-linecap="round"/><path d="M924.7 1660C925.2 1663.3 926.7 1673.3 928 1680C929.3 1686.7 931.7 1696.7 932.4 1700" fill="none" stroke="#739d8e" stroke-width="1.7" stroke-linecap="round"/><path d="M893.9 1715.5C892.2 1711.2 886.3 1699.9 884 1690C881.7 1680.1 880 1663 880 1656C880 1649 883.3 1649.3 884 1648L884 1648C886.2 1647.4 892.5 1645.3 897 1644.5C901.5 1643.7 908.6 1643.4 910.9 1643.2L910.9 1643.2C911.4 1644.3 913 1646.7 914 1650C915 1653.3 916.5 1660.8 917 1663" fill="url(#g)" stroke="#739d8e" stroke-width="1.7" stroke-linejoin="round" stroke-linecap="round"/><path d="M967.8 1730.9C966.5 1723.2 961.4 1698.5 960.1 1684.7C958.8 1670.9 959.1 1656.1 960.1 1648C961.1 1639.9 965 1638 966 1636L966 1636C968.3 1635 975.3 1631.4 980 1630C984.7 1628.6 991.7 1628.2 994 1627.8L994 1627.8C994 1635.2 993.3 1660.4 994 1672.4C994.7 1684.4 997.3 1695.4 998 1700" fill="url(#g)" stroke="#739d8e" stroke-width="1.7" stroke-linejoin="round" stroke-linecap="round"/><path d="M989.4 1777.1C988.4 1769.4 984.2 1743.1 983.2 1730.9C982.2 1718.7 982.2 1710.2 983.2 1704C984.2 1697.8 988 1695.7 989 1694L989 1694C991.7 1693.3 999.5 1690.8 1005 1690C1010.5 1689.2 1018.9 1689.4 1021.7 1689.3L1021.7 1689.3C1021.7 1698.8 1021.2 1732.8 1021.7 1746.3C1022.2 1759.8 1024.5 1766 1025 1770" fill="url(#g)" stroke="#739d8e" stroke-width="1.7" stroke-linejoin="round" stroke-linecap="round"/><path d="M937 1807.9C932.9 1801.2 920.4 1778.9 912.4 1767.9C904.4 1756.9 893.1 1746.1 889.3 1741.7L889.3 1741.7C891.9 1739.4 899.9 1731.6 905 1728C910.1 1724.4 916.5 1721.2 920 1720C923.5 1718.8 925 1720.8 926 1721L926 1721C929.9 1727.8 942.4 1747.2 949.4 1761.7C956.4 1776.2 964.7 1800.2 967.8 1807.9" fill="url(#g)" stroke="#739d8e" stroke-width="1.7" stroke-linejoin="round" stroke-linecap="round"/><path d="M1020.2 1851C1018.2 1843.8 1010.2 1819.6 1007.9 1807.9C1005.6 1796.2 1005.6 1787.2 1006.3 1781C1007 1774.8 1011 1772.7 1012 1771L1012 1771C1014.3 1770.4 1021 1768.3 1026 1767.5C1031 1766.7 1039.1 1766.5 1041.7 1766.3L1041.7 1766.3C1042 1773.2 1042.3 1795.8 1043.3 1807.9C1044.3 1820 1045.6 1829.5 1047.9 1838.7C1050.2 1847.9 1055.6 1859.2 1057.1 1863.3" fill="url(#g)" stroke="#739d8e" stroke-width="1.7" stroke-linejoin="round" stroke-linecap="round"/><path d="M967.8 1854C963.2 1852.2 944.9 1846.3 940 1843C935.1 1839.7 938.8 1835.5 938.6 1834L938.6 1834C939.7 1831.8 942.6 1824.7 945 1821C947.4 1817.3 950.8 1813.7 953 1812C955.2 1810.3 957.2 1811.2 958 1811L958 1811C961.7 1813 973.9 1818.2 980.1 1823.3C986.4 1828.4 992.9 1838.6 995.5 1841.7" fill="url(#g)" stroke="#739d8e" stroke-width="1.7" stroke-linejoin="round" stroke-linecap="round"/><path d="M940 1843C944.6 1844.8 959.6 1848 967.8 1854C976 1860 983.2 1871 989.4 1878.7C995.6 1886.4 1002.2 1896.6 1004.8 1900.2" fill="none" stroke="#739d8e" stroke-width="1.7" stroke-linecap="round"/><path d="M969.4 1646C969.5 1649.2 969.6 1658.3 970 1665C970.4 1671.7 971.7 1682.5 972 1686" fill="none" stroke="#739d8e" stroke-width="1.8" stroke-linecap="round"/><path d="M1000 1705C1000 1709.2 999.5 1722.2 1000 1730C1000.5 1737.8 1002.5 1748.3 1003 1752" fill="none" stroke="#739d8e" stroke-width="1.8" stroke-linecap="round"/><path d="M1022 1785C1022.3 1789.2 1022.7 1801.2 1024 1810C1025.3 1818.8 1029 1833.3 1030 1838" fill="none" stroke="#739d8e" stroke-width="1.8" stroke-linecap="round"/><path d="M1385 1690L1386.8 1775.5L1394.2 1817.3L1404 1861.7L1423.7 1891.2L1440 1912L1487.8 1912L1490 1861L1497.6 1792.7L1509.9 1738.5L1517 1714L1512 1690L1480 1650L1420 1650Z" fill="url(#g)"/><path d="M1423.7 1891.2C1420.4 1886.3 1411.2 1871.8 1404 1861.7C1396.8 1851.7 1384.5 1836 1380.6 1830.9L1380.6 1830.9C1382.7 1829.7 1390.9 1824.7 1393 1823.5L1393 1823.5C1397.5 1829.6 1415.5 1853.9 1420 1860" fill="url(#g)" stroke="#739d8e" stroke-width="1.7" stroke-linejoin="round" stroke-linecap="round"/><path d="M1400 1830C1399 1827.9 1398.5 1823.9 1394.2 1817.3C1390 1810.7 1377.8 1794.7 1374.5 1790.2L1374.5 1790.2C1376.1 1788.2 1382.7 1780 1384.3 1777.9L1384.3 1777.9C1388.6 1784.1 1405.7 1808.8 1410 1815" fill="url(#g)" stroke="#739d8e" stroke-width="1.7" stroke-linejoin="round" stroke-linecap="round"/><path d="M1392 1790C1391.1 1787.6 1388.9 1782 1386.8 1775.5C1384.7 1769 1381.9 1760.2 1379.4 1750.8C1376.9 1741.3 1374 1729.9 1372 1718.8C1370 1707.7 1367.9 1690 1367.1 1684.3L1367.1 1684.3C1369.1 1683.9 1377.4 1682.4 1379.4 1682L1379.4 1682C1380.5 1688.3 1382.6 1705.3 1386 1720C1389.4 1734.7 1397.7 1761.7 1400 1770" fill="url(#g)" stroke="#739d8e" stroke-width="1.7" stroke-linejoin="round" stroke-linecap="round"/><path d="M1400 1700C1402.5 1686.7 1408.3 1643.3 1415 1620C1421.7 1596.7 1433.8 1577.1 1440 1560C1446.2 1542.9 1448.7 1530 1452.1 1517.3C1455.5 1504.6 1458.4 1496.4 1460.5 1483.8C1462.6 1471.2 1463.8 1455.9 1464.7 1441.9C1465.6 1427.9 1465.7 1410.3 1465.7 1400C1465.7 1389.7 1463.7 1385.6 1464.7 1380.1C1465.8 1374.6 1468.7 1370.1 1472 1367C1475.3 1363.9 1480.5 1362.6 1484.7 1361.6C1488.9 1360.6 1493.9 1360.5 1497 1361C1500.1 1361.5 1502 1358 1503.2 1364.5C1504.5 1371 1504.6 1387.1 1504.5 1400C1504.4 1412.9 1503.8 1427.9 1502.4 1441.9C1501 1455.9 1498.9 1469.8 1496.1 1483.8C1493.3 1497.8 1488.9 1513 1485.6 1525.6C1482.3 1538.1 1478.8 1550 1476.2 1559.1C1473.6 1568.2 1473.4 1566.6 1469.9 1580.1C1466.4 1593.6 1459.2 1620 1455 1640C1450.8 1660 1446.7 1690 1445 1700" fill="url(#g)" stroke="#739d8e" stroke-width="1.7" stroke-linejoin="round" stroke-linecap="round"/><path d="M1411.4 1787.8C1409.4 1781.6 1402.8 1763.1 1399.1 1750.8C1395.4 1738.5 1391.8 1726.2 1389.3 1713.9C1386.8 1701.6 1384.5 1690 1384.3 1677C1384.1 1664 1385.8 1649 1388 1636C1390.2 1623 1394.5 1611 1397.7 1598.9C1400.9 1586.8 1404.5 1575.5 1407.1 1563.3C1409.7 1551.1 1411.8 1537.1 1413.4 1525.6C1415 1514.1 1415.8 1504 1416.5 1494.2C1417.2 1484.4 1416.3 1473 1417.6 1467C1418.8 1461 1420.7 1460.2 1424 1458C1427.3 1455.8 1433.2 1454.5 1437.5 1454C1441.8 1453.5 1447 1453.5 1450 1455C1453 1456.5 1454.6 1456.3 1455.3 1462.8C1456 1469.3 1455.1 1485.1 1454.2 1494.2C1453.3 1503.3 1451.7 1508.6 1450 1517.3C1448.3 1526 1446.2 1536.5 1443.8 1546.6C1441.4 1556.7 1438.2 1567.5 1435.4 1578C1432.6 1588.5 1430.2 1597.2 1427 1609.4C1423.8 1621.6 1419.5 1637.3 1416.5 1651.3C1413.5 1665.2 1411.1 1682.7 1409.2 1693.1C1407.3 1703.5 1405.8 1704.3 1405.3 1713.9C1404.8 1723.5 1405.5 1740.1 1406.5 1750.8C1407.5 1761.5 1409.4 1768.5 1411.4 1777.9C1413.5 1787.4 1416.5 1799.3 1418.8 1807.5C1421.1 1815.7 1424 1823.9 1425 1827.2" fill="url(#g)" stroke="#739d8e" stroke-width="1.7" stroke-linejoin="round" stroke-linecap="round"/><path d="M1469.9 1580.1C1471 1576.6 1473.2 1566.4 1476.2 1559.1C1479.2 1551.8 1484.7 1541.7 1487.7 1536.1C1490.7 1530.5 1491.2 1531.5 1494 1525.6C1496.8 1519.7 1501 1509.9 1504.5 1500.5C1508 1491.1 1511.4 1480.6 1514.9 1469.1C1518.4 1457.6 1522.6 1442.9 1525.4 1431.4C1528.2 1419.9 1530 1411.9 1531.7 1400C1533.4 1388.1 1535.1 1372.8 1535.5 1360C1535.9 1347.2 1535.3 1336.8 1534 1323C1532.7 1309.2 1530.4 1291.7 1527.8 1277C1525.2 1262.3 1521.9 1243.8 1518.6 1235C1515.3 1226.2 1511.3 1227.7 1508 1224C1504.7 1220.3 1501.1 1216.4 1499 1213C1496.9 1209.6 1495 1207.3 1495.2 1203.8C1495.4 1200.3 1497 1194.6 1500 1192C1503 1189.4 1508.7 1188.3 1512.9 1188C1517.1 1187.7 1522.4 1188.5 1525 1190C1527.6 1191.5 1527.8 1194.4 1528.4 1197.1C1529 1199.8 1527.3 1197.1 1528.4 1206C1529.5 1214.9 1532.5 1234.7 1535.1 1250.4C1537.7 1266.1 1541.4 1286.3 1544 1300C1546.6 1313.7 1548.2 1319.1 1550.9 1332.4C1553.6 1345.7 1560.2 1362.1 1560 1380C1559.8 1397.9 1555 1420 1550 1440C1545 1460 1538.3 1480 1530 1500C1521.7 1520 1508.3 1543.3 1500 1560C1491.7 1576.7 1483.3 1593.3 1480 1600" fill="url(#g)" stroke="#739d8e" stroke-width="1.7" stroke-linejoin="round" stroke-linecap="round"/><path d="M1423.7 1812.4C1423.3 1808.3 1421.5 1799.9 1421.3 1787.8C1421.1 1775.7 1422.2 1752.3 1422.8 1740C1423.4 1727.7 1423.2 1725.4 1424.9 1714.1C1426.7 1702.8 1429.5 1686.2 1433.3 1672.2C1437.1 1658.2 1442.7 1642.5 1447.9 1630.3C1453.1 1618.1 1458.4 1610.1 1464.7 1598.9C1471 1587.7 1478.6 1575.5 1485.6 1563.3C1492.6 1551.1 1500 1538.8 1506.6 1525.6C1513.2 1512.3 1520.2 1497.8 1525.4 1483.8C1530.6 1469.8 1534.7 1455.9 1538 1441.9C1541.3 1427.9 1543.1 1412.3 1545.3 1400C1547.5 1387.7 1549.2 1378.2 1551.2 1368C1553.2 1357.8 1555.4 1346.7 1557.1 1338.5C1558.8 1330.3 1559.6 1326.4 1561.1 1318.7C1562.6 1311 1564.2 1300.6 1566.3 1292.4C1568.3 1284.2 1571.1 1277.2 1573.4 1269.5C1575.7 1261.8 1577.5 1253.1 1580 1246.2C1582.5 1239.3 1585.5 1235.1 1588.3 1228.2C1591.1 1221.3 1594 1211.3 1597 1205C1600 1198.7 1602.8 1196 1606 1190.5C1609.2 1185 1611.9 1176.2 1616 1172C1620.1 1167.8 1625.2 1164.8 1630.4 1165C1635.6 1165.2 1642.4 1169.1 1647 1173C1651.6 1176.9 1656.8 1184.3 1658.1 1188.3C1659.4 1192.3 1658.7 1190.4 1654.8 1197.1C1650.9 1203.8 1639.5 1220.9 1634.8 1228.2C1630 1235.5 1628.9 1235.5 1626.3 1241C1623.7 1246.5 1621.9 1254.7 1619.3 1261.4C1616.7 1268.1 1613.1 1274.6 1610.9 1281C1608.7 1287.4 1607.3 1294.5 1606 1300C1604.7 1305.5 1603.3 1308.1 1603 1313.9C1602.7 1319.7 1604.5 1326.5 1604 1335C1603.5 1343.5 1601.8 1354.2 1600 1365C1598.2 1375.8 1596 1387.2 1593 1400C1590 1412.8 1587.7 1427.9 1582 1441.9C1576.3 1455.9 1565.9 1469.8 1558.9 1483.8C1551.9 1497.8 1546.7 1512.3 1540.1 1525.6C1533.5 1538.8 1526.4 1551.1 1519.1 1563.3C1511.8 1575.5 1503.4 1587.7 1496.1 1598.9C1488.8 1610.1 1482.2 1618.1 1475.2 1630.3C1468.2 1642.5 1459.8 1660 1454.2 1672.2C1448.6 1684.4 1444.8 1692.3 1441.7 1703.6C1438.6 1714.9 1437.4 1728.1 1435.4 1740C1433.5 1751.9 1430.9 1769.2 1430 1775" fill="url(#g)" stroke="#739d8e" stroke-width="1.7" stroke-linejoin="round" stroke-linecap="round"/><path d="M1647.9 1204C1644.9 1207.7 1635.2 1219 1630 1226C1624.8 1233 1621 1238.7 1617 1246C1613 1253.3 1609.1 1262.3 1606 1270C1602.9 1277.7 1601.1 1282.6 1598.6 1292.4C1596.1 1302.2 1593 1317.7 1591 1329C1589 1340.3 1587.6 1348.2 1586.3 1360C1585 1371.8 1583.5 1393.3 1583 1400" fill="none" stroke="#739d8e" stroke-width="1.7" stroke-linecap="round"/><path d="M1428.7 1775.5C1429.3 1771.4 1430.2 1762.8 1432.4 1750.8C1434.6 1738.8 1438.1 1716.7 1441.7 1703.6C1445.3 1690.5 1448.6 1684.4 1454.2 1672.2C1459.8 1660 1468.2 1642.5 1475.2 1630.3C1482.2 1618.1 1488.8 1610.1 1496.1 1598.9C1503.4 1587.7 1511.8 1575.5 1519.1 1563.3C1526.4 1551.1 1533.5 1538.8 1540.1 1525.6C1546.7 1512.3 1553.3 1497.8 1558.9 1483.8C1564.5 1469.8 1569.6 1455.9 1573.6 1441.9C1577.6 1427.9 1580.1 1409.5 1583 1400C1585.9 1390.5 1588.8 1392.4 1590.9 1384.7C1593 1377 1594 1363 1595.5 1353.9C1597 1344.8 1598.8 1335.3 1600 1330C1601.2 1324.7 1602.5 1323.3 1603 1322L1603 1322C1604.2 1321.4 1607.5 1319.3 1610 1318.5C1612.5 1317.7 1616.7 1317.2 1618 1317L1618 1317C1618.3 1325.8 1620.1 1356.2 1620 1370C1619.9 1383.8 1619 1388 1617.5 1400C1616 1412 1615.1 1427.9 1611.3 1441.9C1607.5 1455.9 1600.8 1469.8 1594.5 1483.8C1588.2 1497.8 1581.3 1512.3 1573.6 1525.6C1565.9 1538.8 1556.8 1551.1 1548.4 1563.3C1540 1575.5 1531.7 1587.7 1523.3 1598.9C1514.9 1610.1 1506.2 1619.8 1498.2 1630.3C1490.2 1640.8 1482.2 1651.2 1475.2 1661.7C1468.2 1672.2 1461.2 1682.6 1456.3 1693.1C1451.4 1703.6 1447.6 1719.3 1445.9 1724.5" fill="url(#g)" stroke="#739d8e" stroke-width="1.7" stroke-linejoin="round" stroke-linecap="round"/><path d="M1449.6 1861.7C1449.4 1855.5 1449 1837 1448.4 1824.7C1447.8 1812.4 1446.1 1800.1 1445.9 1787.8C1445.7 1775.5 1446.4 1763.1 1447.1 1750.8C1447.8 1738.5 1447.5 1725.7 1450 1713.9C1452.5 1702.1 1457.5 1689.5 1462 1680C1466.5 1670.5 1471 1665.3 1477 1657C1483 1648.7 1490.5 1640 1498.2 1630.3C1505.9 1620.6 1514.9 1610.1 1523.3 1598.9C1531.7 1587.7 1540 1575.5 1548.4 1563.3C1556.8 1551.1 1565.9 1538.8 1573.6 1525.6C1581.3 1512.3 1588.2 1497.8 1594.5 1483.8C1600.8 1469.8 1607.5 1455.9 1611.3 1441.9C1615.1 1427.9 1616.4 1412 1617.5 1400C1618.6 1388 1618.1 1380.8 1618 1370C1617.9 1359.2 1615.8 1343 1617 1335C1618.2 1327 1619.5 1323.7 1625 1322C1630.5 1320.3 1644.2 1321.2 1650 1325C1655.8 1328.8 1658.5 1332 1660 1345C1661.5 1358 1659.9 1388.8 1658.7 1403.2C1657.5 1417.6 1655.8 1419.7 1653.1 1431.4C1650.4 1443.1 1647.2 1459.3 1642.7 1473.3C1638.2 1487.3 1632.2 1502 1625.9 1515.2C1619.6 1528.5 1612.7 1540.6 1605 1552.8C1597.3 1565 1588.3 1577.2 1579.9 1588.4C1571.5 1599.6 1562.7 1610 1554.7 1619.8C1546.7 1629.6 1538.3 1638.7 1531.7 1647.1C1525.1 1655.5 1518.7 1663.5 1514.9 1670.1C1511.1 1676.7 1511.2 1678.6 1508.7 1686.9C1506.2 1695.2 1501.5 1714.5 1500 1720" fill="url(#g)" stroke="#739d8e" stroke-width="1.7" stroke-linejoin="round" stroke-linecap="round"/><path d="M1455.8 1861.7C1455.6 1856 1454.5 1838.7 1454.5 1827.2C1454.5 1815.7 1454.8 1804.2 1455.8 1792.7C1456.8 1781.2 1458.2 1770.1 1460.7 1758.2C1463.2 1746.3 1467 1731.7 1470.5 1721.3C1474 1710.9 1480.1 1700.2 1482 1696L1482 1696C1485 1695 1492.7 1690.9 1500 1690C1507.3 1689.1 1521.7 1690.4 1526 1690.5L1526 1690.5C1524.5 1694.4 1520 1705.9 1517.3 1713.9C1514.6 1721.9 1512 1730.8 1509.9 1738.5C1507.9 1746.2 1505.8 1756.4 1505 1760" fill="url(#g)" stroke="#739d8e" stroke-width="1.7" stroke-linejoin="round" stroke-linecap="round"/><path d="M1463.2 1874C1463 1867.8 1461.9 1849.3 1461.9 1837C1461.9 1824.7 1462.2 1811.6 1463.2 1800.1C1464.2 1788.6 1466.1 1777.1 1468.1 1768.1C1470.1 1759.1 1473.8 1749.7 1475 1746L1475 1746C1477.5 1745.2 1483.6 1741 1490 1741C1496.4 1741 1509.7 1745.1 1513.6 1745.9L1513.6 1745.9C1512.2 1749.6 1507.7 1760.3 1505 1768.1C1502.3 1775.9 1499.4 1785.4 1497.6 1792.7C1495.8 1800 1494.6 1808.8 1494 1812" fill="url(#g)" stroke="#739d8e" stroke-width="1.7" stroke-linejoin="round" stroke-linecap="round"/><path d="M1469.3 1891.2C1469.1 1886.3 1468.1 1870.7 1468.1 1861.7C1468.1 1852.7 1468.7 1844.8 1469.3 1837C1469.9 1829.2 1471.4 1818.7 1471.8 1815L1471.8 1815C1474 1814.2 1479.9 1810.5 1485 1810.5C1490.1 1810.5 1499.7 1814.2 1502.6 1814.9L1502.6 1814.9C1501.4 1818.6 1497.3 1829.2 1495.2 1837C1493.1 1844.8 1491.4 1853.5 1490.2 1861.7C1489 1869.9 1488.2 1878.1 1487.8 1886.3C1487.4 1894.5 1487.8 1906.8 1487.8 1910.9" fill="url(#g)" stroke="#739d8e" stroke-width="1.7" stroke-linejoin="round" stroke-linecap="round"/><path d="M1520.7 1190.5C1521.2 1186.8 1522 1174.6 1524 1168.3C1526 1162 1528.8 1159.1 1532.9 1152.8C1537 1146.5 1544 1139.5 1548.4 1130.6C1552.8 1121.7 1555.1 1110.7 1559.5 1099.6C1563.9 1088.5 1569.1 1075.9 1575 1064.1C1580.9 1052.3 1587.5 1040.3 1594.9 1028.7C1602.3 1017.1 1615.2 1000 1619.3 994.3L1619.3 994.3C1617.1 1000.8 1610.8 1020 1606 1033.1C1601.2 1046.2 1595.7 1059 1590.5 1073C1585.3 1087 1580.2 1104 1575 1117.3C1569.8 1130.6 1565.4 1141.7 1559.5 1152.8C1553.6 1163.9 1544.7 1175.7 1539.5 1183.8C1534.3 1191.9 1530.2 1198.6 1528.4 1201.6Z" fill="url(#g)" stroke="#739d8e" stroke-width="1.6" stroke-linejoin="round"/><path d="M1495.2 1206C1491.5 1204.9 1480.4 1202.4 1473 1199.4C1465.6 1196.5 1458.2 1193.8 1450.8 1188.3C1443.4 1182.8 1436.1 1174.2 1428.7 1166.1C1421.3 1158 1413.9 1147.3 1406.5 1139.5C1399.1 1131.7 1392.2 1125 1384.3 1119.5C1376.3 1114 1363 1108.5 1358.8 1106.3L1358.8 1106.3C1363 1107 1376.3 1107 1384.3 1110.7C1392.2 1114.4 1399.1 1121.8 1406.5 1128.4C1413.9 1135.1 1421.3 1143.6 1428.7 1150.6C1436.1 1157.6 1443.4 1165.3 1450.8 1170.5C1458.2 1175.7 1465.3 1178 1473 1181.6C1480.7 1185.2 1493 1190.3 1497 1192Z" fill="url(#g)" stroke="#739d8e" stroke-width="1.6" stroke-linejoin="round"/><path d="M1492 1192C1488.8 1190.3 1478 1185.2 1473 1181.6C1468 1178 1467.4 1175.7 1461.9 1170.5C1456.4 1165.3 1447.2 1157.6 1439.8 1150.6C1432.4 1143.6 1424.6 1135.2 1417.6 1128.4C1410.6 1121.6 1400.9 1112.7 1397.6 1109.6L1397.6 1109.6C1400.9 1110.9 1410.6 1113 1417.6 1117.3C1424.6 1121.5 1432.4 1129.2 1439.8 1135.1C1447.2 1141 1454.5 1147.3 1461.9 1152.8C1469.3 1158.3 1477.4 1163.4 1484.1 1168.3C1490.8 1173.2 1499 1179.7 1502 1182Z" fill="url(#g)" stroke="#739d8e" stroke-width="1.6" stroke-linejoin="round"/><path d="M1425.3 1095.1L1426.4 1097L1427.9 1099.7L1429.8 1102.9L1431.9 1106.3L1434.2 1109.8L1436.6 1112.9L1439.2 1115.7L1441.8 1118.2L1444.5 1120.4L1447.2 1122.6L1449.7 1124.8L1452 1127.1L1454.4 1129.7L1456.9 1132.7L1459.4 1135.7L1461.8 1138.8L1464.2 1141.9L1466.5 1144.8L1468.5 1147.4L1470.3 1149.9L1472 1152.2L1473.7 1154.7L1475.7 1157.3L1478 1160.3L1480.8 1163.9L1484.2 1168.2L1487.8 1172.7L1491.1 1176.9L1494 1180.5L1496.1 1183.1L1503.9 1176.9L1501.9 1174.3L1499 1170.7L1495.6 1166.4L1492.1 1161.9L1488.7 1157.7L1485.8 1154.1L1483.5 1151.2L1481.4 1148.7L1479.5 1146.4L1477.6 1144.1L1475.7 1141.8L1473.5 1139.2L1471.2 1136.4L1468.8 1133.3L1466.4 1130.1L1463.8 1127L1461.2 1123.9L1458.6 1120.9L1455.8 1118.2L1453 1115.7L1450.3 1113.5L1447.8 1111.3L1445.5 1109.2L1443.4 1107.1L1441.3 1104.5L1439.1 1101.5L1437 1098.4L1435 1095.4L1433.3 1092.8L1432.1 1090.9Z" fill="url(#g)" stroke="#739d8e" stroke-width="1.6" stroke-linejoin="round"/><path d="M1497 1182C1493.7 1177.5 1482.4 1162 1477.4 1155C1472.4 1148 1470.3 1145.2 1467 1140C1463.7 1134.8 1460.2 1131.5 1457.5 1124C1454.8 1116.5 1452.3 1105.5 1450.8 1095.2C1449.3 1084.9 1448.2 1071.7 1448.6 1061.9C1449 1052.1 1452.3 1040.7 1453 1036.4L1453 1036.4C1453.8 1041 1455.3 1054.3 1457.5 1064.1C1459.7 1073.9 1463.1 1085.2 1466.4 1095.2C1469.7 1105.2 1472.6 1114.4 1477.4 1124C1482.2 1133.6 1490.1 1144.3 1495.2 1152.8C1500.3 1161.3 1505.9 1171.3 1508 1175Z" fill="url(#g)" stroke="#739d8e" stroke-width="1.6" stroke-linejoin="round"/><path d="M1500 1172C1496.3 1169.7 1493.9 1157.5 1490.7 1148.4C1487.5 1139.3 1482.7 1127.7 1480.8 1117.3C1478.9 1106.9 1478.5 1093.4 1479.2 1086C1479.9 1078.6 1483 1073.3 1485.2 1073C1487.4 1072.7 1490.7 1076.6 1492.5 1084C1494.3 1091.4 1493.3 1108 1496 1117.3C1498.7 1126.5 1505.7 1132 1508.5 1139.5C1511.3 1147 1514.4 1156.6 1513 1162C1511.6 1167.4 1503.7 1174.3 1500 1172Z" fill="url(#g)" stroke="#739d8e" stroke-width="1.6" stroke-linejoin="round"/><path d="M1478.5 1024L1480.5 1027.6L1483.2 1032.5L1486.4 1038.2L1489.7 1044.5L1492.8 1050.9L1495.4 1057L1497.6 1063.1L1499.7 1069.7L1501.6 1076.4L1503.3 1083.2L1504.9 1089.9L1506.3 1096.1L1507.5 1102L1508.5 1107.5L1509.3 1112.8L1509.9 1118L1510.4 1123.2L1510.6 1128.5L1510.5 1133.9L1510.2 1139.3L1509.6 1144.8L1509 1150.4L1508.3 1155.9L1507.9 1161.4L1507.6 1167.1L1507.4 1173L1507.3 1178.8L1507.2 1184.1L1507.1 1188.6L1507 1191.9L1517 1192.1L1517.1 1188.9L1517.2 1184.4L1517.3 1179.1L1517.5 1173.3L1517.7 1167.5L1517.9 1162L1518.2 1156.7L1518.6 1151.3L1519.1 1145.7L1519.4 1139.9L1519.7 1134.1L1519.6 1128.3L1519.3 1122.6L1518.8 1117.1L1518.2 1111.6L1517.3 1106L1516.3 1100.3L1515.1 1094.3L1513.7 1087.9L1512.1 1081.1L1510.4 1074.1L1508.4 1067.1L1506.2 1060.2L1503.8 1053.6L1500.9 1047.1L1497.4 1040.5L1493.8 1034.1L1490.4 1028.3L1487.5 1023.5L1485.5 1020Z" fill="url(#g)" stroke="#739d8e" stroke-width="1.6" stroke-linejoin="round"/><path d="M1501.3 1003.3L1501.6 1004.8L1502 1006.8L1502.5 1009.1L1503 1011.7L1503.7 1014.3L1504.4 1016.8L1505.4 1019.3L1506.5 1021.5L1507.5 1023.5L1508.5 1025.5L1509.4 1028L1510.2 1031.2L1511.1 1035.4L1512 1040.6L1512.9 1046.3L1513.7 1052.3L1514.5 1058.4L1515.1 1064.4L1515.6 1070.2L1516.1 1076.1L1516.4 1082.1L1516.7 1088.1L1516.9 1094.1L1517 1100L1517 1106.2L1516.8 1112.9L1516.6 1119.6L1516.4 1125.8L1516.1 1131L1516 1134.9L1524 1135.1L1524.1 1131.4L1524.3 1126.1L1524.6 1119.9L1524.8 1113.1L1524.9 1106.4L1525 1100L1525 1094L1525 1087.9L1524.9 1081.8L1524.7 1075.7L1524.4 1069.6L1524.1 1063.6L1523.6 1057.6L1523.1 1051.3L1522.5 1045.1L1521.8 1039.1L1521 1033.6L1520 1028.8L1518.7 1024.8L1517.3 1021.5L1515.8 1018.8L1514.3 1016.7L1512.9 1014.9L1511.6 1013.2L1510.1 1011.1L1508.3 1009L1506.6 1007L1505 1005.2L1503.6 1003.8L1502.7 1002.7Z" fill="url(#g)" stroke="#739d8e" stroke-width="1.6" stroke-linejoin="round"/><path d="M1532.2 1061.6L1531.8 1065.3L1531.3 1070.3L1530.7 1076.1L1530 1082.5L1529.3 1088.8L1528.4 1094.5L1527.5 1100L1526.6 1105.4L1525.5 1110.9L1524.3 1116.4L1523.1 1121.9L1521.8 1127.3L1520.4 1132.8L1518.7 1138.3L1516.9 1143.9L1515.2 1149.5L1513.6 1155.2L1512.4 1160.8L1511.5 1166.7L1510.9 1172.8L1510.6 1178.7L1510.3 1184L1510.2 1188.5L1510 1191.7L1520 1192.3L1520.2 1189L1520.4 1184.5L1520.6 1179.2L1521 1173.5L1521.5 1167.9L1522.2 1162.6L1523.2 1157.5L1524.5 1152.1L1526 1146.6L1527.6 1140.9L1529.2 1135.2L1530.6 1129.5L1531.8 1123.9L1533.1 1118.3L1534.3 1112.7L1535.4 1107.1L1536.5 1101.5L1537.4 1095.9L1538.1 1089.8L1538.7 1083.3L1539.2 1076.9L1539.6 1071L1539.9 1066L1540.2 1062.4Z" fill="url(#g)" stroke="#739d8e" stroke-width="1.6" stroke-linejoin="round"/><path d="M1497 1186C1499.3 1181.2 1507 1174.3 1512 1175C1517 1175.7 1524.5 1185.2 1527 1190C1529.5 1194.8 1529.5 1200.3 1527 1204C1524.5 1207.7 1516.8 1212 1512 1212C1507.2 1212 1500.5 1208.3 1498 1204C1495.5 1199.7 1494.7 1190.8 1497 1186Z" fill="url(#g)"/><path d="M1405 1064L1403 1048L1410 1056L1412 1045L1417 1054L1421 1044L1424 1055L1430 1058" fill="url(#g)" stroke="#739d8e" stroke-width="1.4" stroke-linejoin="round"/><path d="M1435 1099.5C1435 1098.1 1434 1094.1 1434.8 1091C1435.6 1087.9 1439 1084.3 1439.7 1080.8C1440.5 1077.3 1440.4 1073.2 1439.4 1069.7C1438.3 1066.3 1436.3 1062.7 1433.5 1060.2C1430.6 1057.8 1425.5 1055.7 1422.2 1055.1C1418.9 1054.5 1416.2 1055.4 1413.5 1056.5C1410.9 1057.5 1408.3 1058.7 1406.3 1061.5C1404.4 1064.3 1402.1 1069.3 1401.8 1073.1C1401.4 1076.8 1402.5 1080.8 1404.1 1084C1405.8 1087.2 1408.5 1090.2 1411.6 1092.2C1414.6 1094.2 1419.4 1094.4 1422.2 1096.1C1424.9 1097.8 1427 1101.3 1428 1102.4" fill="url(#g)" stroke="#739d8e" stroke-width="1.6" stroke-linejoin="round"/><path d="M1449 985L1444 970L1452 978L1453 964L1458 975L1461 962L1464 975L1472 976" fill="url(#g)" stroke="#739d8e" stroke-width="1.4" stroke-linejoin="round"/><path d="M1489.7 1024.7C1489.3 1023 1487.3 1018.5 1487.5 1014.6C1487.7 1010.7 1490.9 1005.8 1491 1001.5C1491.1 997.1 1490.1 992.3 1488.1 988.5C1486.1 984.7 1482.9 980.9 1479 978.7C1475 976.5 1468.5 975.2 1464.4 975.2C1460.3 975.3 1457.3 977 1454.4 978.9C1451.5 980.8 1448.8 982.8 1447.1 986.5C1445.4 990.2 1443.8 996.7 1444.3 1001.2C1444.7 1005.7 1446.9 1010.2 1449.5 1013.5C1452.2 1016.9 1456.2 1019.8 1460.2 1021.5C1464.2 1023.2 1470 1022.3 1473.6 1023.6C1477.3 1025 1480.6 1028.7 1481.9 1029.7" fill="url(#g)" stroke="#739d8e" stroke-width="1.6" stroke-linejoin="round"/><path d="M1524 1030L1531 1011L1534 1022L1540 1011L1542 1022L1550 1013L1548 1026L1553 1020L1550 1032" fill="url(#g)" stroke="#739d8e" stroke-width="1.4" stroke-linejoin="round"/><path d="M1536.9 1070.5C1537.5 1069.3 1538.6 1065.4 1540.6 1063.1C1542.7 1060.7 1547 1059.2 1549.3 1056.5C1551.5 1053.8 1553.2 1050.2 1553.9 1046.8C1554.6 1043.4 1554.5 1039.4 1553.2 1036C1551.9 1032.6 1548.6 1028.5 1546.1 1026.4C1543.6 1024.3 1540.9 1023.9 1538.2 1023.6C1535.6 1023.3 1532.9 1023.2 1530 1024.7C1527.1 1026.2 1523 1029.5 1521 1032.6C1519 1035.6 1518.2 1039.6 1518.1 1043.1C1518 1046.5 1519 1050.4 1520.6 1053.5C1522.2 1056.6 1526.2 1059 1527.7 1061.7C1529.2 1064.4 1529.4 1068.4 1529.8 1069.8" fill="url(#g)" stroke="#739d8e" stroke-width="1.6" stroke-linejoin="round"/><g transform="translate(1700.1 1202.6) scale(1.0)"><path d="M0 0C-2.3 2.8 -8.4 9.2 -14 17C-19.6 24.8 -27.1 37.9 -33.3 46.5C-39.5 55.1 -46.1 63.3 -51 68.7C-55.9 74.1 -60.3 75.3 -62.8 79C-65.3 82.7 -64.1 86.8 -65.8 90.8C-67.5 94.8 -70.6 99 -73.1 102.7C-75.5 106.4 -79 110 -80.5 113C-82 116 -81.1 116.7 -82 120.4C-82.9 124.1 -85.2 130.3 -85.7 135.2C-86.2 140.1 -85.9 145.1 -85 150C-84.1 154.9 -81.1 159.8 -80.5 164.7C-79.9 169.6 -80.8 175.6 -81.3 179.5C-81.8 183.4 -84.6 185.2 -83.5 188.4C-82.4 191.6 -78.8 196.5 -74.6 198.7C-70.4 200.9 -63.3 201.7 -58.4 201.7C-53.5 201.7 -48.1 199.4 -45.1 198.7C-42.1 197.9 -43.3 199.4 -40.6 197.2C-37.9 195 -31.4 189.3 -28.8 185.4C-26.2 181.5 -26.1 177.5 -25.1 173.6C-24.1 169.7 -24.2 167 -22.9 161.8C-21.5 156.6 -18.7 149.5 -17 142.6C-15.3 135.7 -14.1 127.8 -12.6 120.4C-11.1 113 -9.6 105.6 -8.1 98.2C-6.6 90.8 -4.9 84.7 -3.7 76.1C-2.5 67.5 -1.6 56.4 -0.7 46.5C0.2 36.6 1.4 24.8 1.5 17C1.6 9.2 0.2 2.8 0 0C-0.2 -2.8 2.3 -2.8 0 0Z" fill="#ffffff" stroke="#95a5a5" stroke-width="1.90" stroke-linejoin="round"/><path d="M-7.8 9.6Q-2.5 15.6 0.9 12.6M-13.8 17.4Q-4.9 23.4 0.9 20.4M-19.2 25.5Q-7.3 31.5 0.4 28.5M-24.4 33.8Q-9.9 39.8 -0.3 36.8M-30 42.5Q-12.6 48.5 -1.1 45.5M-36.4 51.4Q-15.6 57.4 -1.9 54.4M-43.6 60.6Q-19 66.6 -2.7 63.6M-51.8 70.1Q-22.9 76.1 -3.8 73.1M-62.8 79.8Q-28.2 85.8 -5.3 82.8M-65 89.9Q-30.4 95.9 -7.5 92.9M-70.9 100.2Q-34 106.2 -9.6 103.2M-78.6 110.8Q-38.4 116.8 -11.8 113.8M-81.8 121.7Q-41 127.7 -13.9 124.7M-84.8 132.8Q-43.4 138.8 -16 135.8M-85.2 144.3Q-45.3 150.3 -18.8 147.3M-79 160Q-50 150 -24 166M-78 186Q-70 160 -40 158Q-24 164 -30 186M-72 192Q-62 170 -42 166M-74 193L-75 200M-67.5 194.5L-68.5 200M-61 193L-62 200M-54.5 194.5L-55.5 200M-48 193L-49 200M-41.5 194.5L-42.5 200M-35 193L-36 200" fill="none" stroke="#95a5a5" stroke-width="1.90" stroke-linecap="round"/></g><g transform="translate(1734.5 1445.2) scale(0.768)"><path d="M0 0C-2.3 2.8 -8.4 9.2 -14 17C-19.6 24.8 -27.1 37.9 -33.3 46.5C-39.5 55.1 -46.1 63.3 -51 68.7C-55.9 74.1 -60.3 75.3 -62.8 79C-65.3 82.7 -64.1 86.8 -65.8 90.8C-67.5 94.8 -70.6 99 -73.1 102.7C-75.5 106.4 -79 110 -80.5 113C-82 116 -81.1 116.7 -82 120.4C-82.9 124.1 -85.2 130.3 -85.7 135.2C-86.2 140.1 -85.9 145.1 -85 150C-84.1 154.9 -81.1 159.8 -80.5 164.7C-79.9 169.6 -80.8 175.6 -81.3 179.5C-81.8 183.4 -84.6 185.2 -83.5 188.4C-82.4 191.6 -78.8 196.5 -74.6 198.7C-70.4 200.9 -63.3 201.7 -58.4 201.7C-53.5 201.7 -48.1 199.4 -45.1 198.7C-42.1 197.9 -43.3 199.4 -40.6 197.2C-37.9 195 -31.4 189.3 -28.8 185.4C-26.2 181.5 -26.1 177.5 -25.1 173.6C-24.1 169.7 -24.2 167 -22.9 161.8C-21.5 156.6 -18.7 149.5 -17 142.6C-15.3 135.7 -14.1 127.8 -12.6 120.4C-11.1 113 -9.6 105.6 -8.1 98.2C-6.6 90.8 -4.9 84.7 -3.7 76.1C-2.5 67.5 -1.6 56.4 -0.7 46.5C0.2 36.6 1.4 24.8 1.5 17C1.6 9.2 0.2 2.8 0 0C-0.2 -2.8 2.3 -2.8 0 0Z" fill="none" stroke="#c6d8db" stroke-width="1.95" stroke-linejoin="round"/><path d="M-7.8 9.6Q-2.5 15.6 0.9 12.6M-13.8 17.4Q-4.9 23.4 0.9 20.4M-19.2 25.5Q-7.3 31.5 0.4 28.5M-24.4 33.8Q-9.9 39.8 -0.3 36.8M-30 42.5Q-12.6 48.5 -1.1 45.5M-36.4 51.4Q-15.6 57.4 -1.9 54.4M-43.6 60.6Q-19 66.6 -2.7 63.6M-51.8 70.1Q-22.9 76.1 -3.8 73.1M-62.8 79.8Q-28.2 85.8 -5.3 82.8M-65 89.9Q-30.4 95.9 -7.5 92.9M-70.9 100.2Q-34 106.2 -9.6 103.2M-78.6 110.8Q-38.4 116.8 -11.8 113.8M-81.8 121.7Q-41 127.7 -13.9 124.7M-84.8 132.8Q-43.4 138.8 -16 135.8M-85.2 144.3Q-45.3 150.3 -18.8 147.3M-79 160Q-50 150 -24 166M-78 186Q-70 160 -40 158Q-24 164 -30 186M-72 192Q-62 170 -42 166M-74 193L-75 200M-67.5 194.5L-68.5 200M-61 193L-62 200M-54.5 194.5L-55.5 200M-48 193L-49 200M-41.5 194.5L-42.5 200M-35 193L-36 200" fill="none" stroke="#c6d8db" stroke-width="1.95" stroke-linecap="round"/></g><g transform="translate(1806.6 1570.6) scale(0.765)"><path d="M0 0C-2.3 2.8 -8.4 9.2 -14 17C-19.6 24.8 -27.1 37.9 -33.3 46.5C-39.5 55.1 -46.1 63.3 -51 68.7C-55.9 74.1 -60.3 75.3 -62.8 79C-65.3 82.7 -64.1 86.8 -65.8 90.8C-67.5 94.8 -70.6 99 -73.1 102.7C-75.5 106.4 -79 110 -80.5 113C-82 116 -81.1 116.7 -82 120.4C-82.9 124.1 -85.2 130.3 -85.7 135.2C-86.2 140.1 -85.9 145.1 -85 150C-84.1 154.9 -81.1 159.8 -80.5 164.7C-79.9 169.6 -80.8 175.6 -81.3 179.5C-81.8 183.4 -84.6 185.2 -83.5 188.4C-82.4 191.6 -78.8 196.5 -74.6 198.7C-70.4 200.9 -63.3 201.7 -58.4 201.7C-53.5 201.7 -48.1 199.4 -45.1 198.7C-42.1 197.9 -43.3 199.4 -40.6 197.2C-37.9 195 -31.4 189.3 -28.8 185.4C-26.2 181.5 -26.1 177.5 -25.1 173.6C-24.1 169.7 -24.2 167 -22.9 161.8C-21.5 156.6 -18.7 149.5 -17 142.6C-15.3 135.7 -14.1 127.8 -12.6 120.4C-11.1 113 -9.6 105.6 -8.1 98.2C-6.6 90.8 -4.9 84.7 -3.7 76.1C-2.5 67.5 -1.6 56.4 -0.7 46.5C0.2 36.6 1.4 24.8 1.5 17C1.6 9.2 0.2 2.8 0 0C-0.2 -2.8 2.3 -2.8 0 0Z" fill="none" stroke="#c6d8db" stroke-width="1.96" stroke-linejoin="round"/><path d="M-7.8 9.6Q-2.5 15.6 0.9 12.6M-13.8 17.4Q-4.9 23.4 0.9 20.4M-19.2 25.5Q-7.3 31.5 0.4 28.5M-24.4 33.8Q-9.9 39.8 -0.3 36.8M-30 42.5Q-12.6 48.5 -1.1 45.5M-36.4 51.4Q-15.6 57.4 -1.9 54.4M-43.6 60.6Q-19 66.6 -2.7 63.6M-51.8 70.1Q-22.9 76.1 -3.8 73.1M-62.8 79.8Q-28.2 85.8 -5.3 82.8M-65 89.9Q-30.4 95.9 -7.5 92.9M-70.9 100.2Q-34 106.2 -9.6 103.2M-78.6 110.8Q-38.4 116.8 -11.8 113.8M-81.8 121.7Q-41 127.7 -13.9 124.7M-84.8 132.8Q-43.4 138.8 -16 135.8M-85.2 144.3Q-45.3 150.3 -18.8 147.3M-79 160Q-50 150 -24 166M-78 186Q-70 160 -40 158Q-24 164 -30 186M-72 192Q-62 170 -42 166M-74 193L-75 200M-67.5 194.5L-68.5 200M-61 193L-62 200M-54.5 194.5L-55.5 200M-48 193L-49 200M-41.5 194.5L-42.5 200M-35 193L-36 200" fill="none" stroke="#c6d8db" stroke-width="1.96" stroke-linecap="round"/></g><g transform="translate(1878.4 1701.9) scale(0.765)"><path d="M0 0C-2.3 2.8 -8.4 9.2 -14 17C-19.6 24.8 -27.1 37.9 -33.3 46.5C-39.5 55.1 -46.1 63.3 -51 68.7C-55.9 74.1 -60.3 75.3 -62.8 79C-65.3 82.7 -64.1 86.8 -65.8 90.8C-67.5 94.8 -70.6 99 -73.1 102.7C-75.5 106.4 -79 110 -80.5 113C-82 116 -81.1 116.7 -82 120.4C-82.9 124.1 -85.2 130.3 -85.7 135.2C-86.2 140.1 -85.9 145.1 -85 150C-84.1 154.9 -81.1 159.8 -80.5 164.7C-79.9 169.6 -80.8 175.6 -81.3 179.5C-81.8 183.4 -84.6 185.2 -83.5 188.4C-82.4 191.6 -78.8 196.5 -74.6 198.7C-70.4 200.9 -63.3 201.7 -58.4 201.7C-53.5 201.7 -48.1 199.4 -45.1 198.7C-42.1 197.9 -43.3 199.4 -40.6 197.2C-37.9 195 -31.4 189.3 -28.8 185.4C-26.2 181.5 -26.1 177.5 -25.1 173.6C-24.1 169.7 -24.2 167 -22.9 161.8C-21.5 156.6 -18.7 149.5 -17 142.6C-15.3 135.7 -14.1 127.8 -12.6 120.4C-11.1 113 -9.6 105.6 -8.1 98.2C-6.6 90.8 -4.9 84.7 -3.7 76.1C-2.5 67.5 -1.6 56.4 -0.7 46.5C0.2 36.6 1.4 24.8 1.5 17C1.6 9.2 0.2 2.8 0 0C-0.2 -2.8 2.3 -2.8 0 0Z" fill="none" stroke="#c6d8db" stroke-width="1.96" stroke-linejoin="round"/><path d="M-7.8 9.6Q-2.5 15.6 0.9 12.6M-13.8 17.4Q-4.9 23.4 0.9 20.4M-19.2 25.5Q-7.3 31.5 0.4 28.5M-24.4 33.8Q-9.9 39.8 -0.3 36.8M-30 42.5Q-12.6 48.5 -1.1 45.5M-36.4 51.4Q-15.6 57.4 -1.9 54.4M-43.6 60.6Q-19 66.6 -2.7 63.6M-51.8 70.1Q-22.9 76.1 -3.8 73.1M-62.8 79.8Q-28.2 85.8 -5.3 82.8M-65 89.9Q-30.4 95.9 -7.5 92.9M-70.9 100.2Q-34 106.2 -9.6 103.2M-78.6 110.8Q-38.4 116.8 -11.8 113.8M-81.8 121.7Q-41 127.7 -13.9 124.7M-84.8 132.8Q-43.4 138.8 -16 135.8M-85.2 144.3Q-45.3 150.3 -18.8 147.3M-79 160Q-50 150 -24 166M-78 186Q-70 160 -40 158Q-24 164 -30 186M-72 192Q-62 170 -42 166M-74 193L-75 200M-67.5 194.5L-68.5 200M-61 193L-62 200M-54.5 194.5L-55.5 200M-48 193L-49 200M-41.5 194.5L-42.5 200M-35 193L-36 200" fill="none" stroke="#c6d8db" stroke-width="1.96" stroke-linecap="round"/></g><circle cx="1115.8" cy="752.4" r="5.6" fill="#0a0a0a"/><path d="M1115.8 752.4L1183.7 752.4" stroke="#0a0a0a" stroke-width="2.3" fill="none"/><circle cx="1420.7" cy="1075.9" r="5.6" fill="#0a0a0a"/><path d="M1349.8 1075.9L1420.7 1075.9" stroke="#0a0a0a" stroke-width="2.3" fill="none"/><circle cx="1670.4" cy="1321.2" r="5.6" fill="#0a0a0a"/><path d="M1670.4 1321.2L1740 1321.2" stroke="#0a0a0a" stroke-width="2.3" fill="none"/><circle cx="1608.9" cy="2015.3" r="5.6" fill="#0a0a0a"/><path d="M1643.3 1907.9L1608.9 1907.9L1608.9 2015.3" stroke="#0a0a0a" stroke-width="2.3" fill="none"/><circle cx="1389.2" cy="2138.4" r="5.6" fill="#0a0a0a"/><path d="M1319.7 2138.4L1389.2 2138.4" stroke="#0a0a0a" stroke-width="2.3" fill="none"/><circle cx="1048.8" cy="1921.2" r="5.6" fill="#0a0a0a"/><path d="M978.8 1921.2L1048.8 1921.2" stroke="#0a0a0a" stroke-width="2.3" fill="none"/><circle cx="825.8" cy="2641.8" r="111.5" fill="#6b9470"/><circle cx="635.5" cy="2597.2" r="16.4" fill="#22b3bb"/><path d="M457.3 2596.6L608 2596.6" stroke="#22b3bb" stroke-width="1.6"/><path d="M566 2673.9L703 2673.9" stroke="#6b9470" stroke-width="1.6"/></svg>
<div class="hr"></div>
<div class="tb " style="left:111px;top:115.02px;font-size:21px;line-height:30px;letter-spacing:0.15px;"><div>SOBIRANIES · FÓRMULES</div></div><div class="tb " style="left:1884px;top:115.02px;font-size:21px;line-height:30px;letter-spacing:0.15px;"><div>DIRECTA 591</div></div><div class="tb title" style="left:103.5px;top:244.17px;font-size:164px;line-height:180px;letter-spacing:0px;"><div>Posidònia, reserves de carb</div></div><div class="tb by" style="left:111px;top:464.66px;font-size:21px;line-height:33.33px;"><div id="by_0" style="letter-spacing:0.802px"><span><b>ANDREA ARNAL,</b> COMUNICADORA CIENTÍFICA</span></div><div id="by_1" style="letter-spacing:-0.033px"><span>I MEMBRE DEL CREAF</span></div><div id="by_2" style="letter-spacing:0.812px"><span><b>ELISENDA CASABONA,</b> BIÒLOGA MARINA</span></div><div id="by_3" style="letter-spacing:-0.029px"><span>I IL·LUSTRADORA</span></div></div><div class="tb body" style="left:111px;top:629.54px;font-size:26px;line-height:33.31px;"><div id="body_0" style="letter-spacing:1.336px"><span>A sota les aigües del Mediterrani,</span></div><div id="body_1" style="letter-spacing:1.314px"><span>s’estén un bosc submarí silenciós</span></div><div id="body_2" style="letter-spacing:1.402px"><span>i fràgil: les praderies de posidònia</span></div><div id="body_3" style="letter-spacing:1.275px"><span>oceànica. Aquesta planta –sí,</span></div><div id="body_4" style="letter-spacing:1.127px"><span>planta, no és una alga– és una</span></div><div id="body_5" style="letter-spacing:1.639px"><span>espècie endèmica que té un</span></div><div id="body_6" style="letter-spacing:1.447px"><span>paper cabdal en la lluita contra el</span></div><div id="body_7" style="letter-spacing:1.662px"><span>canvi climàtic.</span></div><div id="body_8" style="letter-spacing:1.510px"><span>La posidònia captura</span></div><div id="body_9" style="letter-spacing:1.621px"><span>i emmagatzema grans quantitats</span></div><div id="body_10" style="letter-spacing:1.469px"><span>de CO<span class="sub">2</span> atmosfèric durant segles.</span></div><div id="body_11" style="letter-spacing:1.717px"><span>Actua com un embornal natural</span></div><div id="body_12" style="letter-spacing:1.635px"><span>de carboni blau. A més, amorteix</span></div><div id="body_13" style="letter-spacing:1.351px"><span>l’energia de les onades, protegeix</span></div><div id="body_14" style="letter-spacing:1.371px"><span>la costa de les tempestes</span></div><div id="body_15" style="letter-spacing:1.447px"><span>i acull una biodiversitat marina</span></div><div id="body_16" style="letter-spacing:1.370px"><span>espectacular. Però aquest tresor</span></div><div id="body_17" style="letter-spacing:1.287px"><span>verd està en perill.</span></div><div id="body_18" style="letter-spacing:0.365px"><span>Entre el 13<span class="pc">%</span> i el 50<span class="pc">%</span> de l’extensió</span></div><div id="body_19" style="letter-spacing:0.857px"><span>de la superfície de praderies</span></div><div id="body_20" style="letter-spacing:0.910px"><span>marines de posidònia a la conca</span></div><div id="body_21" style="letter-spacing:0.838px"><span>mediterrània s’ha perdut, i les</span></div><div id="body_22" style="letter-spacing:0.993px"><span>que encara hi resten poden</span></div><div id="body_23" style="letter-spacing:0.857px"><span>haver reduït la densitat de brots</span></div><div id="body_24" style="letter-spacing:0.766px"><span>en un 50<span class="pc">%</span> durant els darrers</span></div><div id="body_25" style="letter-spacing:0.859px"><span>vint anys i s’han fragmentat en</span></div><div id="body_26" style="letter-spacing:0.775px"><span>extensions més petites. Les</span></div><div id="body_27" style="letter-spacing:0.697px"><span>causes? La contaminació, els</span></div><div id="body_28" style="letter-spacing:0.907px"><span>fondejos d’embarcacions, les obres</span></div><div id="body_29" style="letter-spacing:0.887px"><span>costaneres... Amb les directives</span></div><div id="body_30" style="letter-spacing:0.902px"><span>europees, la situació va començar</span></div><div id="body_31" style="letter-spacing:0.712px"><span>a millorar: la qualitat de l’aigua</span></div><div id="body_32" style="letter-spacing:0.663px"><span>va augmentar i la regressió es va</span></div><div id="body_33" style="letter-spacing:0.589px"><span>frenar. Però ara una nova amenaça</span></div><div id="body_34" style="letter-spacing:0.647px"><span>s’obre pas: l’escalfament del mar.</span></div><div id="body_35" style="letter-spacing:0.738px"><span>La posidònia no tolera bé les altes</span></div><div id="body_36" style="letter-spacing:0.806px"><span>temperatures. Si les praderies</span></div><div id="body_37" style="letter-spacing:0.915px"><span>desapareixen, perdem un aliat</span></div><div id="body_38" style="letter-spacing:0.916px"><span>natural contra la crisi climàtica.</span></div><div id="body_39" style="letter-spacing:0.588px"><span>I replantar no és la solució. La</span></div><div id="body_40" style="letter-spacing:1.118px"><span>posidònia creix lentament –pocs</span></div><div id="body_41" style="letter-spacing:0.680px"><span>centímetres l’any– i restaurar-</span></div><div id="body_42" style="letter-spacing:0.505px"><span>la costa dècades. Per això, la</span></div><div id="body_43" style="letter-spacing:1.033px"><span>comunitat científica aposta per la</span></div><div id="body_44" style="letter-spacing:0.767px"><span>preservació: reduir les pressions,</span></div><div id="body_45" style="letter-spacing:0.826px"><span>evitar fondejos, millorar les aigües</span></div><div id="body_46" style="letter-spacing:1.042px"><span>i protegir-la legalment.</span></div><div id="body_47" style="letter-spacing:0.550px"><span>I sí, aquells munts de fulles a la</span></div><div id="body_48" style="letter-spacing:0.850px"><span>platja són un bon senyal. Indiquen</span></div><div id="body_49" style="letter-spacing:0.701px"><span>que hi ha praderies sanes a prop.</span></div><div id="body_50" style="letter-spacing:0.803px"><span>En lloc de veure-les com brutícia,</span></div><div id="body_51" style="letter-spacing:0.729px"><span>hauríem d’aprendre a veure-les</span></div><div id="body_52" style="letter-spacing:0.875px"><span>com el que són: una prova que el</span></div><div id="body_53" style="letter-spacing:0.738px"><span>mar encara respira.</span></div></div><div class="tb hv" style="left:1395px;top:519.86px;font-size:31px;line-height:36px;letter-spacing:1.6px;"><div>Com atrapa el CO<span class="sub2">2</span>?</div></div><div class="tb rp" style="left:1395px;top:584.23px;font-size:22px;line-height:27.7px;"><div id="rp_0" style="letter-spacing:0.298px"><span>El CO<span class="sub">2</span>, un dels gasos d’efecte hivernacle que està provocant</span></div><div id="rp_1" style="letter-spacing:0.348px"><span>el canvi climàtic, és capturat per les herbes marines a través</span></div><div id="rp_2" style="letter-spacing:0.433px"><span>de la fotosíntesi i és convertit en carboni orgànic, que la</span></div><div id="rp_3" style="letter-spacing:0.500px"><span>planta incorpora. A diferència dels arbres, que acumulen</span></div><div id="rp_4" style="letter-spacing:0.323px"><span>el carboni a la biomassa visible, la posidònia el reté</span></div><div id="rp_5" style="letter-spacing:0.450px"><span>majoritàriament en el sediment on arrela. A mesura que creix,</span></div><div id="rp_6" style="letter-spacing:0.358px"><span>genera rizomes i arrels que queden enterrades. A més, les</span></div><div id="rp_7" style="letter-spacing:0.374px"><span>fulles de les plantes atrapen partícules en suspensió riques</span></div><div id="rp_8" style="letter-spacing:0.568px"><span>també en carboni orgànic, formades per altres productors</span></div><div id="rp_9" style="letter-spacing:0.623px"><span>primaris, com el fitoplàncton. Aquest conjunt es diposita</span></div><div id="rp_10" style="letter-spacing:0.472px"><span>i conserva durant mil·lennis: s’han documentat estocs de</span></div><div id="rp_11" style="letter-spacing:0.460px"><span>carboni de fins a 6.000 anys d’antiguitat.</span></div></div><div class="tb " style="left:825.5px;top:612.08px;font-size:22px;line-height:28px;letter-spacing:0.7px;"><div>Fixació de carboni per mitjà de la fotosíntesi</div></div><div class="tb lb" style="left:1192.5px;top:735.18px;font-size:22px;line-height:28px;letter-spacing:0.3px;"><div>Fulles</div></div><div class="tb lb" style="left:1187px;top:1055.38px;font-size:22px;line-height:28px;letter-spacing:0.3px;"><div>Inflorescència</div></div><div class="tb lb" style="left:1747px;top:1303.18px;font-size:22px;line-height:27.6px;letter-spacing:0.3px;"><div>Fauna associada</div><div>a la praderia</div></div><div class="tb lb" style="left:1651px;top:1890.18px;font-size:22px;line-height:28px;letter-spacing:0.45px;"><div>Rizomes horitzontals</div></div><div class="tb lb" style="left:1242px;top:2119.28px;font-size:22px;line-height:28px;letter-spacing:0.3px;"><div>Arrels</div></div><div class="tb lb" style="left:868.5px;top:1907.53px;font-size:22px;line-height:25.7px;letter-spacing:0.3px;"><div>Rizomes</div><div>verticals</div></div><div class="tb " style="left:1874px;top:2172.05px;font-size:22px;line-height:27.85px;letter-spacing:0.55px;"><div>Embornal de</div><div>carboni a llarg</div><div>termini</div></div><div class="tb " style="left:1738.5px;top:2365.33px;font-size:22px;line-height:28.5px;letter-spacing:0.55px;"><div>Fixació de carboni</div><div>a través de les arrels</div></div><div class="tb hv" style="left:111px;top:2535.64px;font-size:33px;line-height:38.65px;"><div id="bl_0" style="letter-spacing:0.508px"><span>Cobreixen menys del</span></div><div id="bl_1" style="letter-spacing:0.482px"><span><span class="teal">0,2% del sòl oceànic,</span></span></div><div id="bl_2" style="letter-spacing:0.812px"><span>però emmagatzemen al</span></div><div id="bl_3" style="letter-spacing:0.459px"><span>voltant del <span class="green">10% del carboni</span></span></div><div id="bl_4" style="letter-spacing:0.454px"><span>enterrat als oceans</span></div></div><div class="tb hv" style="left:1144.5px;top:2535.54px;font-size:33px;line-height:38.65px;"><div id="br_0" style="letter-spacing:0.498px"><span><span class="teal">Una hectàrea de posidònia</span> de</span></div><div id="br_1" style="letter-spacing:0.648px"><span>Formentera segresta tant carboni</span></div><div id="br_2" style="letter-spacing:0.449px"><span>com <span class="green">quinze hectàrees de selva</span></span></div><div id="br_3" style="letter-spacing:0.756px"><span><span class="green">amazònica</span></span></div></div><div class="tb " style="left:111px;top:2851.12px;font-size:21px;line-height:28px;letter-spacing:0px;color:#333;"><div>22</div></div><div class="sq" style="left:1740.2px;top:2538.2px;background:#22b3bb"></div><div class="sq" style="left:1740.2px;top:2597.1px"></div><div class="sq" style="left:1799.0px;top:2597.1px"></div><div class="sq" style="left:1857.8px;top:2597.1px"></div><div class="sq" style="left:1916.6px;top:2597.1px"></div><div class="sq" style="left:1975.4px;top:2597.1px"></div><div class="sq" style="left:1740.2px;top:2656.3px"></div><div class="sq" style="left:1799.0px;top:2656.3px"></div><div class="sq" style="left:1857.8px;top:2656.3px"></div><div class="sq" style="left:1916.6px;top:2656.3px"></div><div class="sq" style="left:1975.4px;top:2656.3px"></div><div class="sq" style="left:1740.2px;top:2715.5px"></div><div class="sq" style="left:1799.0px;top:2715.5px"></div><div class="sq" style="left:1857.8px;top:2715.5px"></div><div class="sq" style="left:1916.6px;top:2715.5px"></div><div class="sq" style="left:1975.4px;top:2715.5px"></div>
</body></html>
